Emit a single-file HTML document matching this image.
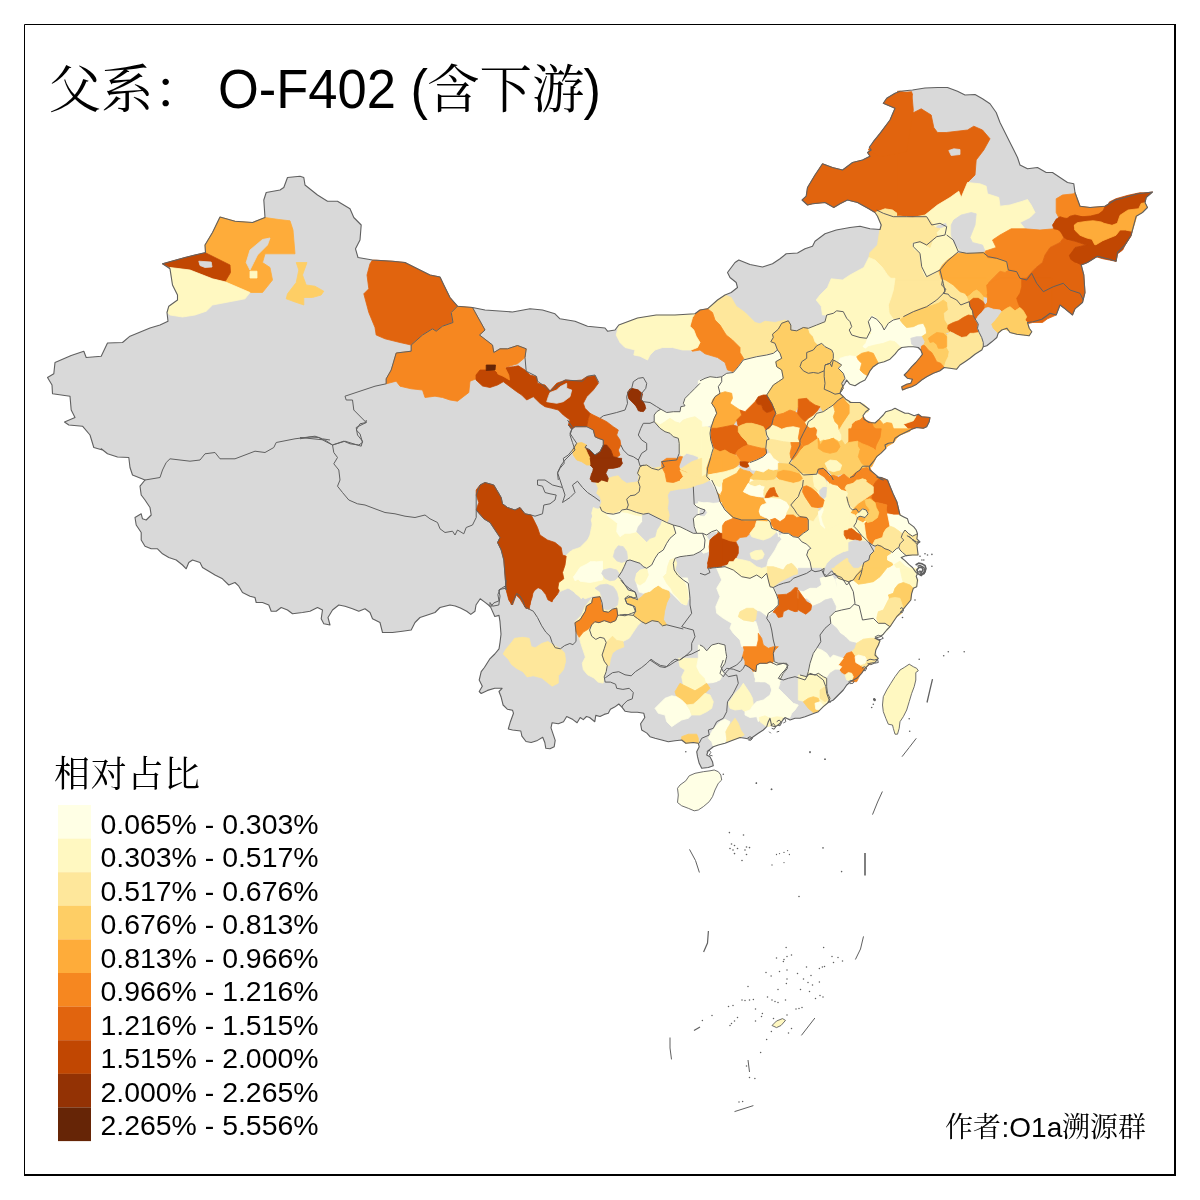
<!DOCTYPE html>
<html lang="zh"><head><meta charset="utf-8"><title>父系： O-F402 (含下游)</title>
<style>
html,body{margin:0;padding:0;background:#fff;}
body{width:1200px;height:1200px;overflow:hidden;}
svg{display:block;}
text{fill:#000;}
.ti{font-family:"Liberation Sans","Noto Serif CJK SC",serif;font-size:52.5px;}
.lt{font-family:"Liberation Sans","Noto Serif CJK SC",serif;font-size:36px;letter-spacing:0.7px;}
.lg{font-family:"Liberation Sans","Noto Serif CJK SC",sans-serif;font-size:27px;}
.au{font-family:"Liberation Sans","Noto Serif CJK SC",serif;font-size:28px;}
</style></head><body>
<svg width="1200" height="1200" viewBox="0 0 1200 1200">
<rect x="0" y="0" width="1200" height="1200" fill="#fff"/>
<g id="map">
<path d="M300.0 176.2 L303.8 177.5 L305.0 185.0 L317.5 195.0 L327.5 201.2 L337.5 201.2 L350.0 208.8 L353.8 217.5 L361.2 225.0 L360.0 240.0 L355.5 248.8 L358.0 257.5 L372.5 260.0 L392.5 261.2 L405.0 262.5 L417.5 268.8 L430.0 275.0 L440.0 277.0 L443.8 285.0 L450.0 297.5 L457.5 306.2 L472.5 307.5 L485.0 310.0 L512.5 312.0 L530.0 308.8 L542.5 310.0 L555.0 313.8 L560.0 318.8 L575.0 321.2 L587.5 326.2 L600.0 327.5 L600.0 327.5 L605.0 328.0 L607.5 331.2 L615.0 330.0 L618.8 325.0 L637.5 318.0 L656.2 315.0 L675.0 315.0 L695.0 313.8 L700.0 310.0 L707.5 308.8 L717.5 300.0 L725.0 295.0 L731.2 292.5 L737.5 287.5 L736.2 282.5 L730.0 277.5 L727.5 272.5 L735.0 262.5 L738.8 260.0 L750.0 264.5 L762.5 267.0 L772.5 263.8 L780.0 258.8 L786.2 253.8 L797.5 253.0 L805.0 248.8 L812.5 246.2 L815.0 241.2 L825.0 233.8 L836.2 230.0 L850.0 227.5 L860.0 226.2 L870.0 228.8 L880.0 229.5 L881.2 225.0 L877.5 216.2 L875.0 212.5 L868.8 208.8 L857.5 202.5 L847.5 200.0 L840.0 203.8 L833.8 207.5 L825.0 202.5 L812.5 203.8 L807.5 205.0 L802.0 200.0 L806.2 196.2 L807.5 187.5 L815.0 175.0 L822.5 163.8 L832.5 167.5 L842.5 170.0 L852.5 162.5 L862.5 160.0 L870.0 156.2 L867.5 152.5 L871.2 150.0 L869.3 147.3 L873.3 141.7 L880.0 133.3 L890.0 120.0 L895.0 108.3 L883.3 103.3 L886.7 98.3 L895.0 93.3 L900.0 91.2 L912.5 90.0 L925.0 88.0 L937.5 87.5 L947.5 87.5 L957.5 91.2 L965.0 95.0 L975.0 94.5 L982.5 98.8 L990.0 103.8 L996.2 112.5 L1000.0 122.5 L1005.0 132.5 L1010.0 142.5 L1013.8 150.0 L1017.5 157.5 L1020.0 165.0 L1027.5 168.8 L1037.5 167.5 L1046.2 172.5 L1052.5 172.5 L1060.0 177.5 L1067.5 182.5 L1073.8 183.8 L1075.0 192.5 L1080.0 206.2 L1090.0 207.5 L1105.0 206.2 L1115.0 200.0 L1125.0 197.5 L1137.5 193.8 L1152.5 192.0 L1146.2 197.5 L1145.0 202.5 L1147.5 207.5 L1142.5 212.5 L1136.2 216.2 L1133.8 225.0 L1131.2 235.0 L1125.0 245.0 L1117.5 252.5 L1116.2 261.2 L1107.5 258.8 L1097.5 256.2 L1087.5 262.5 L1081.2 265.0 L1083.8 275.0 L1085.0 292.5 L1082.5 302.5 L1075.0 308.8 L1072.5 315.0 L1065.0 308.8 L1060.0 305.0 L1056.2 315.0 L1050.0 313.2 L1046.8 315.8 L1041.8 319.2 L1033.2 321.8 L1027.5 322.5 L1029.2 328.2 L1031.8 331.8 L1029.2 335.8 L1023.2 335.0 L1016.8 334.2 L1010.0 332.5 L1006.8 328.2 L1001.8 330.0 L998.2 333.2 L996.8 337.5 L991.8 341.8 L986.8 345.8 L983.2 346.8 L981.8 350.0 L981.7 350.0 L975.0 354.2 L970.0 358.3 L965.0 361.7 L960.0 365.0 L956.7 369.2 L950.0 368.3 L944.2 367.5 L940.0 370.8 L933.3 373.3 L926.7 376.7 L921.7 380.0 L916.7 384.2 L911.7 386.7 L906.7 388.3 L902.5 390.0 L901.7 386.7 L906.7 384.2 L910.8 383.3 L912.5 379.2 L907.5 378.3 L904.2 375.0 L907.5 371.7 L911.7 366.7 L915.8 362.5 L920.0 357.5 L922.5 354.2 L920.8 350.0 L918.3 347.5 L913.3 346.7 L908.3 346.7 L901.7 347.5 L898.3 350.0 L895.0 354.2 L890.0 359.2 L884.2 361.7 L878.3 363.3 L873.3 366.7 L870.0 370.8 L867.5 375.8 L865.0 380.0 L860.0 382.5 L855.0 385.8 L850.0 384.2 L849.2 383.3 L846.7 380.0 L845.0 383.3 L841.7 388.3 L840.0 393.3 L843.3 396.7 L845.8 399.2 L850.0 401.7 L850.0 402.5 L860.0 402.5 L865.8 406.7 L869.2 409.2 L865.8 411.7 L863.0 415.8 L864.2 419.2 L869.2 422.5 L875.0 423.0 L879.2 419.2 L883.3 415.0 L885.8 411.7 L891.7 410.0 L895.0 408.3 L898.3 410.0 L905.0 413.3 L908.3 413.3 L914.2 415.8 L918.3 414.2 L921.7 416.7 L930.0 417.5 L929.2 421.7 L926.7 426.7 L923.3 428.3 L916.7 427.5 L911.7 429.2 L906.7 431.7 L900.0 435.0 L895.0 438.3 L893.3 442.5 L888.3 443.3 L885.0 445.0 L885.8 448.3 L880.8 453.3 L876.7 456.7 L873.3 461.7 L869.2 466.7 L870.0 470.0 L875.0 474.2 L880.8 479.2 L883.3 480.0 L876.9 476.9 L881.2 477.5 L887.5 480.0 L890.0 486.2 L893.1 493.8 L896.9 501.9 L898.8 510.0 L900.0 515.0 L903.8 516.9 L907.5 518.8 L908.8 523.1 L913.8 526.9 L916.2 530.0 L917.5 533.8 L916.9 538.8 L920.0 541.9 L918.1 543.1 L916.9 545.0 L917.5 550.0 L918.1 555.0 L912.5 555.0 L906.2 555.6 L901.2 557.5 L905.0 560.6 L908.8 564.4 L912.5 567.5 L915.6 571.9 L917.5 573.8 L916.2 576.2 L917.5 580.0 L916.7 586.7 L913.3 588.3 L911.7 593.3 L910.8 600.0 L906.7 605.0 L903.3 609.2 L900.0 613.3 L896.7 616.7 L893.3 621.7 L890.0 626.7 L886.7 630.0 L883.3 634.2 L880.0 636.7 L875.0 638.3 L880.0 640.8 L878.3 645.0 L875.8 650.0 L875.0 655.0 L878.3 658.3 L875.0 662.5 L870.0 663.3 L865.0 668.3 L861.7 673.3 L856.7 678.3 L851.7 680.8 L846.7 685.0 L843.3 690.0 L838.3 695.0 L833.3 700.0 L828.3 702.5 L823.3 706.7 L818.3 711.7 L811.7 714.2 L805.0 716.7 L800.0 718.3 L795.0 718.3 L790.0 720.0 L785.0 717.5 L781.7 721.7 L778.3 725.0 L775.0 726.7 L771.7 725.8 L770.0 718.3 L768.3 721.7 L766.7 726.7 L763.3 730.0 L758.3 733.3 L753.3 736.7 L750.0 739.2 L745.0 738.3 L740.0 737.5 L733.3 740.0 L725.0 743.3 L718.3 745.0 L713.3 746.7 L708.3 750.8 L706.7 755.0 L710.0 756.7 L712.5 761.7 L713.3 765.8 L708.3 767.5 L701.7 768.3 L699.2 763.3 L697.5 756.7 L696.7 751.7 L699.2 746.7 L698.3 743.3 L693.3 742.5 L685.8 743.3 L681.7 740.0 L675.0 740.8 L668.3 741.7 L661.7 740.0 L655.0 738.3 L650.0 736.7 L646.9 733.1 L641.7 730.0 L640.6 723.8 L644.8 717.5 L643.8 713.3 L637.5 712.3 L631.2 712.3 L625.0 711.2 L621.9 707.1 L618.8 704.0 L614.6 707.1 L610.4 709.2 L608.3 713.3 L604.2 714.4 L600.0 716.5 L595.8 715.4 L594.8 721.7 L589.6 717.5 L586.5 716.5 L583.3 719.6 L580.2 717.5 L577.1 722.7 L572.9 719.6 L566.7 716.5 L563.5 721.7 L558.3 723.8 L552.1 722.7 L551.0 727.9 L553.1 734.2 L555.2 740.4 L554.2 746.7 L550.0 748.8 L545.8 748.3 L544.8 742.5 L542.7 737.3 L537.5 740.4 L531.2 742.5 L526.0 741.5 L521.9 736.2 L520.8 731.0 L512.5 730.0 L508.3 729.0 L510.4 721.7 L513.5 713.3 L512.5 710.2 L507.3 709.2 L503.1 705.0 L501.0 696.7 L499.0 691.5 L502.1 688.3 L494.8 688.3 L487.5 690.4 L481.2 693.5 L479.2 691.5 L482.3 686.2 L479.2 680.0 L481.2 671.7 L484.4 667.5 L489.6 659.2 L494.8 654.0 L499.0 648.8 L500.0 642.5 L501.0 634.2 L500.0 621.7 L499.0 615.4 L494.8 616.5 L490.6 607.1 L488.5 605.0 L484.4 601.9 L480.2 598.8 L476.0 605.0 L475.0 611.2 L470.8 614.4 L466.7 611.2 L460.4 608.1 L455.2 606.0 L450.0 605.0 L440.0 607.5 L435.0 612.5 L427.5 615.0 L420.0 617.5 L415.0 622.5 L411.2 630.0 L402.5 631.2 L392.5 632.5 L382.5 632.5 L380.0 622.5 L372.5 618.8 L370.0 612.5 L365.0 608.8 L358.8 611.2 L352.5 608.8 L345.0 606.2 L338.8 605.0 L332.5 610.0 L328.0 617.5 L330.0 625.0 L323.8 623.8 L321.2 618.8 L322.5 610.0 L317.5 607.5 L310.0 611.2 L302.5 612.5 L292.5 613.8 L287.5 610.0 L281.2 607.5 L276.2 611.2 L271.2 611.2 L268.8 605.0 L262.5 602.5 L256.2 602.5 L255.0 597.5 L250.0 596.2 L242.5 592.5 L238.8 586.2 L235.0 582.5 L228.8 585.0 L222.5 578.8 L215.0 575.0 L208.8 571.2 L202.5 567.5 L200.0 562.5 L192.5 560.0 L188.8 562.5 L186.2 568.8 L182.5 565.0 L176.2 560.0 L168.8 557.5 L162.5 553.8 L157.5 548.8 L151.2 548.8 L145.0 546.2 L141.2 540.0 L141.2 532.5 L136.2 525.0 L135.0 517.5 L141.2 513.8 L142.5 518.8 L146.2 520.0 L151.2 515.0 L150.0 507.5 L145.0 500.0 L141.2 495.0 L140.0 486.2 L145.0 480.0 L132.5 475.0 L130.0 467.5 L128.8 457.5 L117.5 457.0 L107.5 453.8 L101.2 448.8 L102.5 450.0 L93.8 447.5 L90.0 435.0 L82.5 426.2 L68.8 425.0 L64.5 422.0 L75.0 417.5 L71.2 410.0 L70.0 396.2 L52.5 393.8 L52.0 385.0 L47.5 377.5 L53.8 373.8 L55.0 362.5 L71.2 355.5 L83.8 351.2 L86.2 357.5 L101.2 356.2 L107.5 343.0 L122.5 342.5 L130.0 336.2 L150.0 328.0 L160.0 325.0 L168.0 321.2 L167.0 312.5 L168.8 306.2 L177.5 300.0 L177.5 295.0 L172.5 285.0 L170.0 268.8 L162.5 263.8 L185.0 257.5 L195.0 255.0 L205.5 252.5 L205.0 245.0 L212.5 232.5 L220.0 217.0 L235.0 221.2 L252.5 222.5 L265.0 217.5 L263.8 200.0 L266.2 192.5 L280.0 190.0 L283.8 187.5 L287.5 177.5 L300.0 176.2Z" fill="#D9D9D9"/>
<path d="M265.0 217.5 L252.5 222.5 L235.0 221.2 L220.0 217.0 L212.5 232.5 L205.0 245.0 L205.5 252.5 L225.0 262.5 L230.0 265.0 L230.5 272.5 L225.0 281.8 L250.0 292.5 L262.5 292.5 L272.5 280.0 L270.0 267.5 L262.5 262.5 L265.0 253.8 L295.0 253.8 L293.0 230.0 L290.0 220.8 L278.8 219.5Z" fill="#FEAC3A" stroke="#FEAC3A" stroke-width="0.8" stroke-linejoin="round"/>
<path d="M162.5 263.8 L185.0 257.5 L195.0 255.0 L205.5 252.8 L225.0 262.5 L230.0 265.0 L230.5 272.5 L225.0 281.8 L212.5 278.8 L190.0 270.0 L170.0 267.5Z" fill="#C14702" stroke="#C14702" stroke-width="0.8" stroke-linejoin="round"/>
<path d="M170.0 267.5 L190.0 270.0 L212.5 278.8 L225.0 281.8 L250.0 292.5 L245.0 298.8 L232.5 301.2 L212.5 305.0 L206.2 311.2 L195.0 315.0 L182.5 317.0 L170.0 315.0 L167.0 312.5 L168.8 306.2 L177.5 300.0 L177.5 295.0 L172.5 285.0 L170.0 268.8Z" fill="#FFF8C1" stroke="#FFF8C1" stroke-width="0.8" stroke-linejoin="round"/>
<path d="M296.2 262.5 L307.0 262.5 L302.5 275.0 L306.2 285.0 L315.0 286.2 L323.8 291.2 L321.2 295.0 L312.5 297.5 L303.8 297.5 L303.8 305.0 L295.0 302.0 L286.2 298.8 L287.5 293.8 L296.2 282.5 L298.8 270.0Z" fill="#FECE65" stroke="#FECE65" stroke-width="0.8" stroke-linejoin="round"/>
<path d="M372.5 260.0 L392.5 261.2 L405.0 262.5 L417.5 268.8 L430.0 275.0 L440.0 277.0 L443.8 285.0 L450.0 297.5 L457.5 306.2 L451.2 312.5 L453.0 322.5 L442.5 326.2 L436.2 331.2 L432.5 328.8 L422.5 335.0 L411.2 345.0 L400.0 342.5 L385.0 338.8 L376.2 335.0 L375.0 327.5 L368.8 312.5 L363.8 293.8 L368.8 288.8 L367.0 275.0 L370.0 263.8Z" fill="#E1640E" stroke="#E1640E" stroke-width="0.8" stroke-linejoin="round"/>
<path d="M457.5 306.2 L472.5 307.5 L485.0 330.0 L479.5 335.0 L492.5 345.0 L493.8 352.5 L500.0 348.8 L507.5 348.8 L517.5 345.5 L526.2 348.8 L525.0 357.5 L517.5 363.8 L505.0 367.5 L508.8 375.0 L509.5 380.0 L497.5 376.2 L485.0 385.0 L476.2 378.8 L470.0 381.2 L468.8 392.5 L457.5 401.2 L450.0 400.0 L442.5 397.5 L435.0 396.2 L425.0 397.5 L422.5 390.0 L411.2 388.8 L400.0 386.2 L396.2 381.2 L386.2 383.8 L386.2 378.8 L391.2 370.0 L396.2 353.0 L411.2 351.2 L411.2 345.0 L422.5 335.0 L432.5 328.8 L436.2 331.2 L442.5 326.2 L453.0 322.5 L451.2 312.5Z" fill="#F68720" stroke="#F68720" stroke-width="0.8" stroke-linejoin="round"/>
<path d="M871.2 150.0 L867.5 152.5 L870.0 156.2 L862.5 160.0 L852.5 162.5 L842.5 170.0 L832.5 167.5 L822.5 163.8 L815.0 175.0 L807.5 187.5 L806.2 196.2 L802.0 200.0 L807.5 205.0 L812.5 203.8 L825.0 202.5 L833.8 207.5 L840.0 203.8 L847.5 200.0 L857.5 202.5 L868.8 208.8 L875.0 212.5 L885.0 208.8 L892.5 210.0 L900.0 215.5 L902.5 215.5 L902.5 150.0Z" fill="#E1640E" stroke="#E1640E" stroke-width="0.8" stroke-linejoin="round"/>
<path d="M875.0 212.5 L885.0 208.8 L892.5 210.0 L900.0 215.5 L902.5 215.5 L902.5 317.5 L900.0 316.2 L890.0 310.0 L887.5 305.0 L890.0 300.0 L896.2 290.0 L892.5 280.0 L887.5 275.0 L882.5 267.5 L875.0 260.0 L868.8 257.5 L870.0 252.5 L877.5 245.0 L878.8 236.2 L880.0 229.5 L881.2 225.0 L877.5 216.2Z" fill="#FEE79B" stroke="#FEE79B" stroke-width="0.8" stroke-linejoin="round"/>
<path d="M868.8 257.5 L863.8 267.5 L850.0 275.0 L842.5 280.0 L831.2 278.8 L827.5 287.5 L820.0 295.0 L816.2 300.0 L821.2 306.2 L822.5 315.0 L827.5 315.0 L835.0 312.5 L841.2 311.2 L847.5 317.5 L851.2 325.0 L850.0 335.0 L860.0 337.5 L868.8 336.2 L870.0 330.0 L868.8 320.0 L873.8 316.2 L881.2 322.5 L883.8 330.0 L890.0 322.5 L900.0 318.8 L902.5 317.5 L900.0 316.2 L890.0 310.0 L887.5 305.0 L890.0 300.0 L896.2 290.0 L892.5 280.0 L887.5 275.0 L882.5 267.5 L875.0 260.0Z" fill="#FFF8C1" stroke="#FFF8C1" stroke-width="0.8" stroke-linejoin="round"/>
<path d="M717.5 300.0 L725.0 295.0 L731.2 297.5 L736.2 306.2 L745.0 312.5 L755.0 322.5 L760.0 323.8 L765.0 321.2 L775.0 322.5 L785.0 320.0 L788.8 322.5 L785.0 325.0 L780.0 326.2 L778.8 332.5 L772.5 336.2 L773.8 343.8 L776.2 347.5 L775.0 353.8 L762.5 356.2 L752.5 358.8 L743.8 358.8 L740.0 352.5 L740.0 347.5 L732.5 340.0 L726.2 335.0 L720.0 325.0 L715.0 320.0 L712.5 312.5 L707.5 308.8Z" fill="#FEE79B" stroke="#FEE79B" stroke-width="0.8" stroke-linejoin="round"/>
<path d="M695.0 313.8 L700.0 310.0 L707.5 308.8 L712.5 312.5 L715.0 320.0 L720.0 325.0 L726.2 335.0 L732.5 340.0 L740.0 347.5 L740.0 352.5 L743.8 358.8 L740.0 365.0 L736.2 372.5 L727.5 370.0 L725.0 362.5 L717.5 357.5 L705.0 353.8 L700.0 350.0 L692.5 351.2 L691.2 350.0 L697.5 347.5 L700.0 342.5 L696.2 336.2 L693.8 330.0 L690.0 326.2 L692.5 317.5Z" fill="#F68720" stroke="#F68720" stroke-width="0.8" stroke-linejoin="round"/>
<path d="M618.8 325.0 L637.5 318.0 L656.2 315.0 L675.0 315.0 L695.0 313.8 L692.5 317.5 L690.0 326.2 L693.8 330.0 L696.2 336.2 L700.0 342.5 L697.5 347.5 L691.2 350.0 L682.5 350.0 L672.5 347.5 L662.5 347.5 L655.0 350.0 L650.0 355.0 L647.5 360.0 L640.0 356.2 L633.8 355.0 L635.0 350.0 L625.0 347.5 L620.0 342.5 L616.2 335.0Z" fill="#FFF8C1" stroke="#FFF8C1" stroke-width="0.8" stroke-linejoin="round"/>
<path d="M630.0 388.8 L637.5 390.0 L642.5 393.8 L641.2 400.0 L645.0 405.0 L644.5 410.0 L640.0 411.2 L635.0 405.0 L628.8 398.8 L627.5 392.5Z" fill="#933204" stroke="#933204" stroke-width="0.8" stroke-linejoin="round"/>
<path d="M897.5 91.2 L900.0 91.2 L912.5 93.8 L911.2 100.0 L905.0 106.2 L913.8 112.5 L921.2 108.8 L931.2 115.0 L933.8 127.5 L937.5 132.5 L946.2 132.5 L967.5 130.0 L973.8 126.2 L982.5 130.0 L990.0 138.8 L983.8 150.0 L976.2 160.0 L975.0 175.0 L967.5 182.5 L961.2 197.5 L958.8 191.2 L950.0 197.5 L937.5 205.0 L925.0 215.0 L912.5 217.5 L900.0 216.2 L897.5 216.2Z" fill="#E1640E" stroke="#E1640E" stroke-width="0.8" stroke-linejoin="round"/>
<path d="M925.0 215.0 L937.5 205.0 L950.0 197.5 L958.8 191.2 L961.2 197.5 L967.5 182.5 L980.0 183.8 L986.2 186.2 L987.5 193.8 L998.8 197.5 L1000.0 206.2 L1010.0 205.0 L1022.5 201.2 L1027.5 199.5 L1031.2 205.0 L1035.0 212.5 L1030.0 217.5 L1020.0 222.5 L1025.0 228.8 L1011.2 228.8 L1000.0 235.0 L992.5 240.0 L996.2 247.5 L985.0 251.2 L975.0 252.5 L965.0 252.5 L958.8 248.8 L956.2 253.8 L947.5 260.0 L942.5 265.0 L938.8 271.2 L932.5 275.0 L925.0 277.5 L922.5 272.5 L920.0 262.5 L918.8 252.5 L913.8 250.0 L911.2 243.8 L915.0 241.2 L923.8 243.8 L930.0 247.5 L932.5 240.0 L937.5 236.2 L936.2 232.5 L940.0 228.8 L947.5 226.2 L946.2 222.5 L937.5 225.0 L935.0 227.5 L930.0 220.0Z" fill="#FFF8C1" stroke="#FFF8C1" stroke-width="0.8" stroke-linejoin="round"/>
<path d="M897.5 216.2 L900.0 216.2 L912.5 217.5 L925.0 215.0 L930.0 220.0 L935.0 227.5 L940.0 228.8 L936.2 232.5 L937.5 236.2 L932.5 240.0 L930.0 247.5 L923.8 243.8 L915.0 241.2 L911.2 243.8 L913.8 250.0 L918.8 252.5 L920.0 262.5 L922.5 272.5 L925.0 277.5 L932.5 275.0 L938.8 271.2 L941.2 278.8 L945.0 287.5 L942.5 293.8 L947.5 296.2 L950.0 290.0 L957.5 287.5 L965.0 293.8 L967.5 300.0 L960.0 305.0 L950.0 302.5 L945.0 307.5 L937.5 305.0 L925.0 308.8 L915.0 312.5 L907.5 315.0 L900.0 316.2 L897.5 316.2Z" fill="#FEE79B" stroke="#FEE79B" stroke-width="0.8" stroke-linejoin="round"/>
<path d="M938.8 271.2 L942.5 265.0 L947.5 260.0 L956.2 253.8 L965.0 252.5 L975.0 252.5 L985.0 251.2 L987.5 257.5 L1000.0 258.8 L1007.5 261.2 L1008.8 270.0 L1005.0 272.5 L1000.0 271.2 L995.0 276.2 L988.8 282.5 L986.2 290.0 L987.5 297.5 L982.5 296.2 L977.5 290.0 L972.5 291.2 L968.8 295.0 L965.0 293.8 L957.5 287.5 L950.0 290.0 L947.5 296.2 L942.5 293.8 L945.0 287.5 L941.2 278.8Z" fill="#FEAC3A" stroke="#FEAC3A" stroke-width="0.8" stroke-linejoin="round"/>
<path d="M985.0 251.2 L996.2 247.5 L992.5 240.0 L1000.0 235.0 L1011.2 228.8 L1025.0 228.8 L1040.0 230.0 L1053.8 228.8 L1060.0 230.0 L1063.8 237.5 L1060.0 242.5 L1050.0 247.5 L1045.0 255.0 L1042.5 262.5 L1036.2 267.5 L1032.5 271.2 L1025.0 280.0 L1020.0 275.0 L1015.0 270.0 L1008.8 270.0 L1007.5 261.2 L1000.0 258.8 L987.5 257.5Z" fill="#F68720" stroke="#F68720" stroke-width="0.8" stroke-linejoin="round"/>
<path d="M988.8 282.5 L995.0 276.2 L1000.0 271.2 L1005.0 272.5 L1008.8 270.0 L1015.0 270.0 L1020.0 275.0 L1025.0 280.0 L1022.5 287.5 L1017.5 297.5 L1020.0 305.0 L1015.0 310.0 L1007.5 305.0 L1000.0 302.5 L993.8 307.5 L987.5 302.5 L987.5 297.5 L986.2 290.0Z" fill="#F68720" stroke="#F68720" stroke-width="0.8" stroke-linejoin="round"/>
<path d="M1025.0 280.0 L1032.5 271.2 L1036.2 267.5 L1042.5 262.5 L1045.0 255.0 L1050.0 247.5 L1060.0 242.5 L1063.8 237.5 L1070.0 240.0 L1075.0 241.2 L1086.2 245.0 L1075.0 247.5 L1070.0 255.0 L1072.5 260.0 L1081.2 265.0 L1083.8 275.0 L1085.0 292.5 L1082.5 302.5 L1075.0 308.8 L1072.5 315.0 L1065.0 308.8 L1060.0 305.0 L1056.2 315.0 L1047.5 318.8 L1042.5 322.5 L1032.5 322.5 L1027.5 323.8 L1025.0 315.0 L1020.0 305.0 L1017.5 297.5 L1022.5 287.5Z" fill="#E1640E" stroke="#E1640E" stroke-width="0.8" stroke-linejoin="round"/>
<path d="M1056.2 198.8 L1062.5 195.0 L1073.8 193.8 L1075.0 192.5 L1080.0 206.2 L1090.0 207.5 L1105.0 206.2 L1102.5 212.5 L1095.0 216.2 L1085.0 217.5 L1075.0 215.0 L1070.0 216.2 L1065.0 220.0 L1060.0 220.0 L1056.2 212.5Z" fill="#F68720" stroke="#F68720" stroke-width="0.8" stroke-linejoin="round"/>
<path d="M1105.0 206.2 L1115.0 200.0 L1125.0 197.5 L1137.5 193.8 L1152.5 192.0 L1146.2 197.5 L1145.0 202.5 L1141.2 203.8 L1135.0 210.0 L1125.0 212.5 L1120.0 217.5 L1115.0 222.5 L1107.5 225.0 L1100.0 223.8 L1092.5 221.2 L1086.2 222.5 L1080.0 225.0 L1075.0 225.0 L1072.5 230.0 L1080.0 235.0 L1085.0 238.8 L1090.0 241.2 L1086.2 245.0 L1075.0 241.2 L1070.0 240.0 L1063.8 237.5 L1060.0 230.0 L1053.8 228.8 L1052.5 225.0 L1056.2 220.0 L1060.0 220.0 L1065.0 220.0 L1070.0 216.2 L1075.0 215.0 L1085.0 217.5 L1095.0 216.2 L1102.5 212.5Z" fill="#C14702" stroke="#C14702" stroke-width="0.8" stroke-linejoin="round"/>
<path d="M1073.8 225.0 L1080.0 225.0 L1086.2 222.5 L1092.5 221.2 L1100.0 223.8 L1107.5 225.0 L1115.0 222.5 L1120.0 217.5 L1125.0 212.5 L1135.0 210.0 L1141.2 203.8 L1145.0 202.5 L1147.5 207.5 L1142.5 212.5 L1136.2 216.2 L1133.8 225.0 L1131.2 235.0 L1125.0 231.2 L1117.5 232.5 L1113.8 237.5 L1107.5 241.2 L1100.0 242.5 L1095.0 245.0 L1090.0 241.2 L1085.0 238.8 L1080.0 235.0 L1072.5 230.0Z" fill="#FEAC3A" stroke="#FEAC3A" stroke-width="0.8" stroke-linejoin="round"/>
<path d="M1070.0 255.0 L1075.0 247.5 L1086.2 245.0 L1090.0 241.2 L1095.0 245.0 L1100.0 242.5 L1107.5 241.2 L1113.8 237.5 L1117.5 232.5 L1125.0 231.2 L1131.2 235.0 L1125.0 245.0 L1117.5 252.5 L1116.2 261.2 L1107.5 258.8 L1097.5 256.2 L1087.5 262.5 L1081.2 265.0 L1072.5 260.0Z" fill="#C14702" stroke="#C14702" stroke-width="0.8" stroke-linejoin="round"/>
<path d="M993.8 322.5 L1000.0 315.0 L1005.0 310.0 L1007.5 305.0 L1015.0 310.0 L1020.0 305.0 L1025.0 315.0 L1027.5 323.8 L1026.2 327.5 L1030.0 333.8 L1025.0 335.0 L1017.5 332.5 L1010.0 331.2 L1000.0 327.5 L996.2 332.5 L992.5 327.5Z" fill="#FECE65" stroke="#FECE65" stroke-width="0.8" stroke-linejoin="round"/>
<path d="M970.0 300.0 L977.5 297.5 L982.5 302.5 L985.0 308.8 L980.0 315.0 L975.0 316.2 L971.2 307.5Z" fill="#E1640E" stroke="#E1640E" stroke-width="0.8" stroke-linejoin="round"/>
<path d="M948.8 325.0 L960.0 321.2 L965.0 315.0 L972.5 316.2 L976.2 322.5 L978.8 332.5 L970.0 333.8 L965.0 337.5 L960.0 335.0 L953.8 331.2 L948.8 330.0Z" fill="#E1640E" stroke="#E1640E" stroke-width="0.8" stroke-linejoin="round"/>
<path d="M895.0 280.0 L943.3 280.0 L941.7 290.0 L943.3 293.3 L948.3 294.2 L950.0 296.7 L947.5 303.3 L943.3 300.0 L938.3 303.3 L933.3 305.0 L928.3 306.7 L923.3 307.5 L916.7 310.0 L911.7 312.5 L905.0 315.8 L900.0 320.0 L893.3 319.2 L889.2 313.3 L888.3 305.0 L890.8 298.3 L893.3 290.0Z" fill="#FEE79B" stroke="#FEE79B" stroke-width="0.8" stroke-linejoin="round"/>
<path d="M848.3 278.3 L895.0 278.3 L893.3 290.0 L890.8 298.3 L888.3 305.0 L889.2 313.3 L893.3 319.2 L885.8 326.7 L883.3 330.0 L880.0 323.3 L876.7 318.3 L872.5 315.8 L869.2 318.3 L870.8 330.0 L871.7 333.3 L868.3 336.7 L865.0 338.3 L860.0 337.5 L855.0 335.0 L848.3 333.3Z" fill="#FFF8C1" stroke="#FFF8C1" stroke-width="0.8" stroke-linejoin="round"/>
<path d="M869.2 318.3 L872.5 315.8 L876.7 318.3 L880.0 323.3 L883.3 330.0 L885.8 326.7 L893.3 319.2 L900.0 320.0 L903.3 324.2 L906.7 327.5 L913.3 326.7 L918.3 324.2 L923.3 323.3 L925.8 328.3 L926.7 333.3 L921.7 336.7 L916.7 336.7 L910.8 338.3 L911.7 344.2 L915.8 346.7 L913.3 346.7 L908.3 346.7 L901.7 347.5 L898.3 350.0 L895.0 354.2 L890.0 359.2 L884.2 361.7 L878.3 363.3 L875.8 358.3 L873.3 353.3 L868.3 351.7 L864.2 350.0 L861.7 345.8 L865.0 341.7 L868.3 336.7 L871.7 333.3 L870.8 330.0Z" fill="#FFFFE5" stroke="#FFFFE5" stroke-width="0.8" stroke-linejoin="round"/>
<path d="M848.3 333.3 L855.0 335.0 L860.0 337.5 L865.0 338.3 L865.0 341.7 L861.7 345.8 L864.2 350.0 L861.7 353.3 L856.7 356.7 L848.3 355.8Z" fill="#FFF8C1" stroke="#FFF8C1" stroke-width="0.8" stroke-linejoin="round"/>
<path d="M848.3 355.8 L856.7 356.7 L858.3 360.0 L861.7 363.3 L860.0 370.0 L863.3 373.3 L867.5 375.8 L865.0 380.0 L860.0 382.5 L855.0 385.8 L848.3 384.2Z" fill="#FFFFE5" stroke="#FFFFE5" stroke-width="0.8" stroke-linejoin="round"/>
<path d="M900.0 320.0 L905.0 315.8 L911.7 312.5 L916.7 310.0 L923.3 307.5 L928.3 306.7 L933.3 305.0 L938.3 303.3 L943.3 300.0 L947.5 303.3 L948.3 310.0 L944.2 313.3 L945.0 320.0 L948.3 325.0 L947.5 328.3 L950.0 331.7 L945.0 333.3 L938.3 331.7 L933.3 332.5 L930.0 335.0 L926.7 333.3 L925.8 328.3 L923.3 323.3 L918.3 324.2 L913.3 326.7 L906.7 327.5 L903.3 324.2Z" fill="#FECE65" stroke="#FECE65" stroke-width="0.8" stroke-linejoin="round"/>
<path d="M943.3 280.0 L948.3 281.7 L953.3 285.0 L956.7 288.3 L960.0 291.7 L965.0 293.3 L967.5 296.7 L969.2 301.7 L970.0 306.7 L972.5 310.8 L973.3 315.8 L968.3 315.0 L963.3 317.5 L958.3 320.8 L953.3 322.5 L948.3 325.0 L945.0 320.0 L944.2 313.3 L948.3 310.0 L947.5 303.3 L950.0 296.7 L948.3 294.2 L943.3 293.3 L941.7 290.0Z" fill="#FEE79B" stroke="#FEE79B" stroke-width="0.8" stroke-linejoin="round"/>
<path d="M943.3 278.3 L986.7 278.3 L986.7 285.0 L987.5 293.3 L983.3 296.7 L980.0 292.5 L976.7 290.0 L973.3 291.7 L970.0 295.0 L967.5 296.7 L965.0 293.3 L960.0 291.7 L956.7 288.3 L953.3 285.0 L948.3 281.7Z" fill="#FEAC3A" stroke="#FEAC3A" stroke-width="0.8" stroke-linejoin="round"/>
<path d="M967.5 296.7 L970.0 295.0 L973.3 291.7 L976.7 290.0 L980.0 292.5 L983.3 296.7 L983.3 301.7 L978.3 298.3 L973.3 298.3 L969.2 301.7Z" fill="#FECE65" stroke="#FECE65" stroke-width="0.8" stroke-linejoin="round"/>
<path d="M969.2 301.7 L973.3 298.3 L978.3 298.3 L983.3 301.7 L985.0 305.0 L983.3 308.3 L981.7 312.5 L978.3 315.8 L975.8 320.0 L973.3 315.8 L972.5 310.8 L970.0 306.7Z" fill="#E1640E" stroke="#E1640E" stroke-width="0.8" stroke-linejoin="round"/>
<path d="M948.3 325.0 L953.3 322.5 L958.3 320.8 L963.3 317.5 L968.3 315.0 L973.3 315.8 L975.8 320.0 L978.3 324.2 L977.5 328.3 L979.2 332.5 L973.3 333.3 L970.0 333.3 L966.7 336.7 L961.7 337.5 L956.7 335.0 L953.3 332.5 L950.0 331.7 L947.5 328.3Z" fill="#E1640E" stroke="#E1640E" stroke-width="0.8" stroke-linejoin="round"/>
<path d="M925.0 345.8 L922.5 345.0 L923.3 344.2 L924.2 341.7 L921.7 336.7 L926.7 333.3 L930.0 335.0 L933.3 332.5 L938.3 331.7 L945.0 333.3 L947.5 335.0 L946.7 340.0 L946.7 346.7 L949.2 351.7 L948.3 356.7 L945.8 361.7 L944.2 367.5 L940.8 363.3 L936.7 361.7 L934.2 356.7 L931.7 352.5 L928.3 350.0Z" fill="#FECE65" stroke="#FECE65" stroke-width="0.8" stroke-linejoin="round"/>
<path d="M947.5 335.0 L950.0 331.7 L956.7 335.0 L961.7 337.5 L966.7 336.7 L970.0 333.3 L973.3 333.3 L979.2 332.5 L981.7 337.5 L983.3 342.5 L983.3 346.7 L981.7 350.0 L975.0 354.2 L970.0 358.3 L965.0 361.7 L960.0 365.0 L956.7 369.2 L950.0 368.3 L944.2 367.5 L945.8 361.7 L948.3 356.7 L949.2 351.7 L946.7 346.7 L946.7 340.0Z" fill="#FEE79B" stroke="#FEE79B" stroke-width="0.8" stroke-linejoin="round"/>
<path d="M920.8 350.0 L922.5 354.2 L920.0 357.5 L915.8 362.5 L911.7 366.7 L907.5 371.7 L904.2 375.0 L907.5 378.3 L912.5 379.2 L910.8 383.3 L906.7 384.2 L901.7 386.7 L902.5 390.0 L906.7 388.3 L911.7 386.7 L916.7 384.2 L921.7 380.0 L926.7 376.7 L933.3 373.3 L940.0 370.8 L944.2 367.5 L940.8 363.3 L936.7 361.7 L934.2 356.7 L931.7 352.5 L928.3 350.0 L925.0 345.8 L922.5 345.0 L920.8 345.8Z" fill="#F68720" stroke="#F68720" stroke-width="0.8" stroke-linejoin="round"/>
<path d="M986.7 285.0 L991.7 281.7 L1000.0 278.3 L1021.7 278.3 L1021.7 286.7 L1020.0 293.3 L1016.7 298.3 L1018.3 303.3 L1020.0 307.5 L1015.0 310.8 L1010.0 306.7 L1006.7 308.3 L1001.7 311.7 L1000.0 310.0 L993.3 309.2 L988.3 307.5 L985.0 308.3 L985.0 305.0 L986.7 303.3 L989.2 300.0 L987.5 293.3Z" fill="#F68720" stroke="#F68720" stroke-width="0.8" stroke-linejoin="round"/>
<path d="M1021.7 278.3 L1051.7 278.3 L1051.7 313.3 L1046.7 315.8 L1041.7 319.2 L1033.3 321.7 L1027.5 322.5 L1025.0 320.0 L1026.7 316.7 L1023.3 310.8 L1020.0 307.5 L1018.3 303.3 L1016.7 298.3 L1020.0 293.3 L1021.7 286.7Z" fill="#E1640E" stroke="#E1640E" stroke-width="0.8" stroke-linejoin="round"/>
<path d="M903.3 424.2 L908.3 422.5 L913.3 420.8 L915.8 416.7 L918.3 414.2 L921.7 416.7 L930.0 417.5 L929.2 421.7 L926.7 426.7 L923.3 428.3 L916.7 427.5 L911.7 429.2 L907.5 428.3Z" fill="#E1640E" stroke="#E1640E" stroke-width="0.8" stroke-linejoin="round"/>
<path d="M879.2 419.2 L883.3 415.0 L885.8 411.7 L891.7 410.0 L895.0 408.3 L898.3 410.0 L905.0 413.3 L908.3 413.3 L914.2 415.8 L915.8 416.7 L913.3 420.8 L908.3 422.5 L903.3 424.2 L907.5 428.3 L906.7 431.7 L900.0 435.0 L896.7 433.3 L893.3 428.3 L891.7 423.3 L886.7 422.5 L883.3 424.2Z" fill="#FFF8C1" stroke="#FFF8C1" stroke-width="0.8" stroke-linejoin="round"/>
<path d="M848.3 402.5 L860.0 402.5 L865.8 406.7 L869.2 409.2 L865.8 411.7 L863.0 415.8 L864.2 419.2 L860.0 420.0 L855.0 423.3 L848.3 425.0Z" fill="#FEE79B" stroke="#FEE79B" stroke-width="0.8" stroke-linejoin="round"/>
<path d="M848.3 425.0 L855.0 423.3 L860.0 420.0 L864.2 419.2 L869.2 422.5 L871.7 425.0 L873.3 430.0 L878.3 435.0 L880.8 440.0 L876.7 444.2 L875.0 448.3 L871.7 451.7 L866.7 448.3 L861.7 446.7 L856.7 445.0 L848.3 440.0Z" fill="#F68720" stroke="#F68720" stroke-width="0.8" stroke-linejoin="round"/>
<path d="M869.2 422.5 L875.0 423.0 L879.2 419.2 L883.3 424.2 L886.7 422.5 L891.7 423.3 L893.3 428.3 L896.7 433.3 L900.0 435.0 L895.0 438.3 L893.3 442.5 L888.3 443.3 L885.0 445.0 L885.8 448.3 L880.8 453.3 L876.7 456.7 L873.3 461.7 L869.2 466.7 L865.0 463.3 L866.7 456.7 L871.7 451.7 L875.0 448.3 L876.7 444.2 L880.8 440.0 L878.3 435.0 L873.3 430.0 L871.7 425.0Z" fill="#FEAC3A" stroke="#FEAC3A" stroke-width="0.8" stroke-linejoin="round"/>
<path d="M848.3 440.0 L856.7 445.0 L861.7 446.7 L866.7 448.3 L871.7 451.7 L866.7 456.7 L865.0 463.3 L861.7 465.0 L856.7 471.7 L853.3 478.3 L848.3 480.0Z" fill="#FEAC3A" stroke="#FEAC3A" stroke-width="0.8" stroke-linejoin="round"/>
<path d="M861.7 465.0 L865.0 463.3 L869.2 466.7 L870.0 470.0 L875.0 474.2 L880.8 479.2 L883.3 481.7 L853.3 481.7 L853.3 478.3 L856.7 471.7Z" fill="#F68720" stroke="#F68720" stroke-width="0.8" stroke-linejoin="round"/>
<path d="M698.3 380.8 L705.0 378.3 L710.0 376.7 L716.7 377.5 L721.7 376.7 L721.7 381.7 L718.3 386.7 L720.0 393.3 L715.0 396.7 L711.7 403.3 L715.0 408.3 L716.7 413.3 L714.2 418.3 L710.8 425.0 L706.7 426.7 L698.3 427.5Z" fill="#FFFFE5" stroke="#FFFFE5" stroke-width="0.8" stroke-linejoin="round"/>
<path d="M721.7 376.7 L726.7 373.3 L733.3 372.5 L738.3 366.7 L743.3 360.0 L750.0 358.3 L756.7 356.7 L766.7 355.0 L773.3 353.3 L777.5 350.0 L780.0 353.3 L781.7 358.3 L775.8 361.7 L776.7 366.7 L781.7 370.0 L783.3 378.3 L778.3 381.7 L773.3 385.0 L770.0 390.0 L766.7 395.0 L763.3 395.0 L758.3 396.7 L755.0 401.7 L750.0 406.7 L745.0 411.7 L740.0 410.0 L735.0 406.7 L730.0 403.3 L732.5 398.3 L731.7 393.3 L725.0 391.7 L720.0 393.3 L718.3 386.7 L721.7 381.7Z" fill="#FFFFE5" stroke="#FFFFE5" stroke-width="0.8" stroke-linejoin="round"/>
<path d="M772.5 334.2 L778.3 329.2 L781.7 323.3 L788.3 320.8 L790.8 325.0 L790.8 330.0 L796.7 330.8 L803.3 327.5 L808.3 328.3 L810.0 333.3 L813.3 336.7 L815.0 341.7 L818.3 345.0 L821.7 343.3 L825.0 346.7 L831.7 350.0 L833.3 353.3 L833.3 358.3 L836.7 361.7 L841.7 365.0 L838.3 368.3 L843.3 373.3 L845.0 378.3 L841.7 383.3 L843.3 388.3 L840.0 393.3 L843.3 396.7 L838.3 400.0 L833.3 405.0 L828.3 408.3 L823.3 411.7 L820.0 406.7 L815.0 405.0 L810.0 401.7 L806.7 398.3 L798.3 399.2 L798.3 406.7 L795.0 411.7 L790.0 410.0 L783.3 413.3 L776.7 415.0 L775.0 410.0 L771.7 403.3 L766.7 395.0 L770.0 390.0 L773.3 385.0 L778.3 381.7 L783.3 378.3 L781.7 370.0 L776.7 366.7 L775.8 361.7 L781.7 358.3 L780.0 353.3 L777.5 350.0 L775.0 343.3 L770.8 341.7 L773.3 337.5Z" fill="#FECE65" stroke="#FECE65" stroke-width="0.8" stroke-linejoin="round"/>
<path d="M775.0 415.0 L776.7 415.0 L783.3 413.3 L790.0 410.0 L795.0 411.7 L797.5 413.3 L800.0 416.7 L805.0 421.7 L806.7 425.0 L800.0 428.3 L793.3 426.7 L786.7 427.5 L781.7 429.2 L776.7 426.7 L771.7 425.0 L773.3 420.0Z" fill="#F68720" stroke="#F68720" stroke-width="0.8" stroke-linejoin="round"/>
<path d="M771.7 425.0 L776.7 426.7 L781.7 429.2 L786.7 427.5 L793.3 426.7 L800.0 428.3 L799.2 433.3 L798.3 438.3 L800.0 442.5 L793.3 442.5 L783.3 441.7 L775.0 440.0 L769.2 439.2 L766.7 435.0 L765.8 430.0Z" fill="#FFF8C1" stroke="#FFF8C1" stroke-width="0.8" stroke-linejoin="round"/>
<path d="M800.0 428.3 L806.7 425.0 L810.0 427.5 L815.0 426.7 L817.5 430.0 L816.7 435.0 L818.3 438.3 L813.3 441.7 L808.3 445.0 L803.3 446.7 L800.0 442.5 L798.3 438.3 L799.2 433.3Z" fill="#F68720" stroke="#F68720" stroke-width="0.8" stroke-linejoin="round"/>
<path d="M805.0 421.7 L808.3 418.3 L813.3 415.0 L816.7 411.7 L823.3 411.7 L828.3 408.3 L833.3 405.0 L835.0 411.7 L833.3 416.7 L835.0 421.7 L838.3 425.0 L839.2 430.0 L841.7 435.0 L841.7 440.0 L838.3 442.5 L833.3 438.3 L828.3 440.0 L823.3 440.8 L820.0 445.0 L818.3 438.3 L816.7 435.0 L817.5 430.0 L815.0 426.7 L810.0 427.5 L806.7 425.0Z" fill="#FFF8C1" stroke="#FFF8C1" stroke-width="0.8" stroke-linejoin="round"/>
<path d="M833.3 405.0 L838.3 400.0 L843.3 396.7 L846.7 401.7 L850.0 405.0 L850.0 413.3 L846.7 418.3 L843.3 423.3 L839.2 430.0 L838.3 425.0 L835.0 421.7 L833.3 416.7 L835.0 411.7Z" fill="#FEAC3A" stroke="#FEAC3A" stroke-width="0.8" stroke-linejoin="round"/>
<path d="M843.3 396.7 L845.8 399.2 L850.0 401.7 L856.7 403.3 L864.2 404.2 L867.5 407.5 L868.3 411.7 L864.2 413.3 L863.3 416.7 L860.0 420.0 L855.0 421.7 L851.7 425.0 L846.7 418.3 L850.0 413.3 L850.0 405.0 L846.7 401.7Z" fill="#FEE79B" stroke="#FEE79B" stroke-width="0.8" stroke-linejoin="round"/>
<path d="M851.7 425.0 L855.0 421.7 L860.0 420.0 L863.3 416.7 L866.7 420.8 L871.7 422.5 L873.3 426.7 L876.7 430.0 L880.0 435.0 L881.7 440.0 L878.3 443.3 L875.0 446.7 L873.3 451.7 L868.3 450.0 L863.3 448.3 L858.3 446.7 L853.3 444.2 L850.0 440.0 L849.2 433.3Z" fill="#F68720" stroke="#F68720" stroke-width="0.8" stroke-linejoin="round"/>
<path d="M839.2 430.0 L843.3 423.3 L846.7 418.3 L851.7 425.0 L849.2 433.3 L850.0 440.0 L845.0 445.0 L841.7 440.0 L841.7 435.0Z" fill="#FEE79B" stroke="#FEE79B" stroke-width="0.8" stroke-linejoin="round"/>
<path d="M800.0 442.5 L803.3 446.7 L808.3 445.0 L813.3 441.7 L818.3 438.3 L820.0 445.0 L823.3 440.8 L828.3 440.0 L833.3 438.3 L838.3 442.5 L841.7 440.0 L845.0 445.0 L850.0 440.0 L853.3 444.2 L858.3 446.7 L860.0 451.7 L858.3 456.7 L855.0 461.7 L850.0 465.0 L843.3 468.3 L838.3 466.7 L833.3 463.3 L826.7 461.7 L823.3 465.0 L820.0 468.3 L815.0 468.3 L806.7 470.0 L800.0 466.7 L795.0 463.3 L790.0 464.2 L793.3 460.0 L796.7 455.0 L800.0 450.0Z" fill="#FECE65" stroke="#FECE65" stroke-width="0.8" stroke-linejoin="round"/>
<path d="M712.5 400.0 L715.0 396.7 L720.0 393.3 L725.0 391.7 L731.7 393.3 L732.5 398.3 L730.0 403.3 L735.0 406.7 L740.0 410.0 L741.7 415.0 L736.7 420.0 L733.3 425.0 L725.0 426.7 L716.7 428.3 L710.8 428.3 L714.2 418.3 L716.7 413.3 L715.0 408.3 L711.7 403.3Z" fill="#FEAC3A" stroke="#FEAC3A" stroke-width="0.8" stroke-linejoin="round"/>
<path d="M750.0 406.7 L755.0 401.7 L755.8 400.8 L757.5 404.2 L761.7 405.0 L763.3 410.0 L766.7 412.5 L770.0 411.7 L774.2 409.2 L775.8 413.3 L773.3 418.3 L771.7 425.0 L769.2 428.3 L765.0 430.0 L763.3 426.7 L758.3 425.0 L751.7 423.3 L746.7 423.3 L741.7 425.0 L738.3 426.7 L736.7 420.0 L741.7 415.0 L740.0 410.0 L745.0 411.7Z" fill="#E1640E" stroke="#E1640E" stroke-width="0.8" stroke-linejoin="round"/>
<path d="M710.8 428.3 L716.7 428.3 L725.0 426.7 L733.3 425.0 L738.3 426.7 L738.3 431.7 L741.7 436.7 L746.7 441.7 L748.3 445.0 L743.3 446.7 L738.3 450.0 L735.0 455.0 L730.0 453.3 L725.0 450.0 L720.0 451.7 L713.3 448.3 L710.8 440.0 L710.0 433.3Z" fill="#E1640E" stroke="#E1640E" stroke-width="0.8" stroke-linejoin="round"/>
<path d="M738.3 426.7 L741.7 425.0 L746.7 423.3 L751.7 423.3 L758.3 425.0 L763.3 426.7 L765.0 430.0 L765.8 435.0 L766.7 440.0 L765.8 448.3 L761.7 448.3 L755.0 446.7 L750.0 445.0 L748.3 445.0 L746.7 441.7 L741.7 436.7 L738.3 431.7Z" fill="#FECE65" stroke="#FECE65" stroke-width="0.8" stroke-linejoin="round"/>
<path d="M738.3 450.0 L743.3 446.7 L748.3 445.0 L755.0 446.7 L761.7 448.3 L765.8 448.3 L766.7 453.3 L763.3 456.7 L756.7 460.0 L750.0 462.5 L745.0 461.7 L740.0 460.8 L737.5 456.7 L735.8 453.3Z" fill="#F68720" stroke="#F68720" stroke-width="0.8" stroke-linejoin="round"/>
<path d="M713.3 448.3 L720.0 451.7 L725.0 450.0 L730.0 453.3 L735.0 455.0 L737.5 456.7 L740.0 460.8 L738.3 465.0 L735.0 468.3 L730.0 471.7 L725.0 473.3 L716.7 476.7 L710.0 480.0 L706.7 476.7 L707.5 468.3 L710.0 460.0 L711.7 453.3Z" fill="#FEAC3A" stroke="#FEAC3A" stroke-width="0.8" stroke-linejoin="round"/>
<path d="M698.3 427.5 L706.7 426.7 L710.8 428.3 L710.0 433.3 L710.8 440.0 L713.3 448.3 L711.7 453.3 L710.0 460.0 L707.5 468.3 L706.7 476.7 L698.3 478.3Z" fill="#FFF8C1" stroke="#FFF8C1" stroke-width="0.8" stroke-linejoin="round"/>
<path d="M769.2 439.2 L775.0 440.0 L783.3 441.7 L790.8 442.5 L791.7 446.7 L790.0 453.3 L790.8 458.3 L790.0 464.2 L783.3 463.3 L778.3 461.7 L773.3 458.3 L770.0 453.3 L767.5 448.3 L765.8 448.3 L766.7 440.0Z" fill="#FEE79B" stroke="#FEE79B" stroke-width="0.8" stroke-linejoin="round"/>
<path d="M750.0 462.5 L756.7 460.0 L763.3 456.7 L766.7 453.3 L770.0 453.3 L773.3 458.3 L778.3 461.7 L780.0 466.7 L775.0 468.3 L766.7 466.7 L756.7 465.0 L750.8 465.0Z" fill="#FFFFE5" stroke="#FFFFE5" stroke-width="0.8" stroke-linejoin="round"/>
<path d="M790.8 442.5 L800.0 442.5 L803.3 446.7 L800.0 450.0 L796.7 455.0 L793.3 460.0 L790.8 458.3 L790.0 453.3 L791.7 446.7Z" fill="#F68720" stroke="#F68720" stroke-width="0.8" stroke-linejoin="round"/>
<path d="M808.3 328.3 L816.7 325.0 L825.0 321.7 L826.7 315.0 L833.3 313.3 L836.7 310.8 L843.3 311.7 L846.7 318.3 L850.0 321.7 L851.7 326.7 L849.2 330.0 L851.7 335.0 L860.0 337.5 L866.7 338.3 L865.0 343.3 L861.7 346.7 L866.7 350.0 L870.0 352.5 L861.7 354.2 L856.7 356.7 L850.0 355.8 L845.0 356.7 L840.0 358.3 L838.3 361.7 L836.7 361.7 L833.3 358.3 L833.3 353.3 L831.7 350.0 L825.0 346.7 L821.7 343.3 L818.3 345.0 L815.0 341.7 L813.3 336.7 L810.0 333.3Z" fill="#FFF8C1" stroke="#FFF8C1" stroke-width="0.8" stroke-linejoin="round"/>
<path d="M838.3 361.7 L840.0 358.3 L845.0 356.7 L850.0 355.8 L856.7 356.7 L860.0 360.0 L861.7 365.0 L860.0 370.0 L864.2 375.0 L861.7 379.2 L856.7 381.7 L853.3 385.8 L849.2 383.3 L846.7 380.0 L845.0 378.3 L843.3 373.3 L838.3 368.3 L841.7 365.0Z" fill="#FFFFE5" stroke="#FFFFE5" stroke-width="0.8" stroke-linejoin="round"/>
<path d="M590.0 413.3 L593.3 415.0 L600.0 418.3 L606.7 421.7 L613.3 426.7 L618.3 430.0 L616.7 435.0 L620.0 440.0 L620.8 445.0 L618.3 450.0 L620.0 455.0 L616.7 457.5 L613.3 456.7 L610.8 450.0 L606.7 445.0 L603.3 445.0 L603.3 440.0 L598.3 438.3 L595.0 436.7 L593.3 430.0 L588.3 426.7 L586.7 426.7 L588.3 418.3Z" fill="#E1640E" stroke="#E1640E" stroke-width="0.8" stroke-linejoin="round"/>
<path d="M585.0 447.5 L590.0 450.0 L595.0 455.0 L600.0 451.7 L603.3 445.0 L606.7 445.0 L610.8 450.0 L613.3 456.7 L616.7 457.5 L620.8 459.2 L622.5 463.3 L620.0 466.7 L613.3 468.3 L606.7 468.3 L605.0 473.3 L606.7 481.7 L591.7 481.7 L592.5 473.3 L593.3 468.3 L590.0 465.0 L590.0 458.3 L587.5 453.3Z" fill="#933204" stroke="#933204" stroke-width="0.8" stroke-linejoin="round"/>
<path d="M576.7 443.3 L581.7 442.5 L586.7 445.0 L585.0 447.5 L587.5 453.3 L590.0 458.3 L590.0 465.0 L586.7 465.0 L581.7 461.7 L576.7 460.0 L573.3 455.0 L572.5 450.0Z" fill="#FECE65" stroke="#FECE65" stroke-width="0.8" stroke-linejoin="round"/>
<path d="M654.2 415.0 L656.7 411.7 L660.8 409.2 L666.7 412.5 L673.3 411.7 L680.0 411.7 L680.8 406.7 L685.0 405.8 L683.3 403.3 L685.0 398.3 L690.0 393.3 L695.0 388.3 L700.0 383.3 L701.7 383.3 L701.7 421.7 L695.0 416.7 L688.3 418.3 L683.3 420.0 L680.0 423.3 L675.0 421.7 L670.0 418.3 L665.0 421.7 L660.0 425.0 L655.0 421.7Z" fill="#FFFFE5" stroke="#FFFFE5" stroke-width="0.8" stroke-linejoin="round"/>
<path d="M655.0 421.7 L660.0 425.0 L665.0 421.7 L670.0 418.3 L675.0 421.7 L680.0 423.3 L683.3 420.0 L688.3 418.3 L695.0 416.7 L701.7 421.7 L701.7 458.3 L693.3 455.0 L686.7 453.3 L682.5 456.7 L679.2 453.3 L679.2 443.3 L678.3 438.3 L673.3 436.7 L670.0 433.3 L665.0 431.7 L660.0 428.3Z" fill="#FFF8C1" stroke="#FFF8C1" stroke-width="0.8" stroke-linejoin="round"/>
<path d="M661.7 461.7 L668.3 460.8 L676.7 460.0 L679.2 456.7 L682.5 456.7 L680.0 463.3 L678.3 468.3 L683.3 471.7 L686.7 473.3 L683.3 481.7 L666.7 481.7 L666.7 471.7 L664.2 466.7Z" fill="#F68720" stroke="#F68720" stroke-width="0.8" stroke-linejoin="round"/>
<path d="M640.0 465.8 L646.7 465.0 L651.7 468.3 L658.3 470.0 L664.2 466.7 L666.7 471.7 L666.7 481.7 L638.3 481.7 L639.2 471.7Z" fill="#FEE79B" stroke="#FEE79B" stroke-width="0.8" stroke-linejoin="round"/>
<path d="M691.7 461.7 L701.7 458.3 L701.7 481.7 L683.3 481.7 L686.7 473.3 L683.3 471.7 L678.3 468.3 L681.7 468.3 L686.7 465.0Z" fill="#FEE79B" stroke="#FEE79B" stroke-width="0.8" stroke-linejoin="round"/>
<path d="M698.3 501.7 L705.0 503.3 L710.0 503.3 L716.7 505.0 L720.0 501.7 L725.0 508.3 L730.0 515.0 L733.3 518.3 L725.0 521.7 L721.7 526.7 L718.3 531.7 L713.3 531.7 L708.3 533.3 L706.7 536.7 L710.0 541.7 L708.3 551.7 L703.3 553.3 L698.3 546.7Z" fill="#FFFFE5" stroke="#FFFFE5" stroke-width="0.8" stroke-linejoin="round"/>
<path d="M711.7 478.3 L748.3 478.3 L746.7 485.0 L743.3 490.0 L741.7 493.3 L748.3 495.0 L755.0 496.7 L763.3 498.3 L766.7 503.3 L761.7 505.0 L758.3 510.0 L760.0 515.0 L766.7 518.3 L770.0 520.0 L766.7 521.7 L756.7 520.8 L750.0 520.0 L743.3 520.0 L738.3 519.2 L733.3 518.3 L730.0 515.0 L725.0 508.3 L720.0 501.7 L718.3 495.0 L715.0 486.7Z" fill="#FEAC3A" stroke="#FEAC3A" stroke-width="0.8" stroke-linejoin="round"/>
<path d="M748.3 478.3 L766.7 478.3 L765.8 485.0 L763.3 491.7 L764.2 496.7 L755.0 496.7 L748.3 495.0 L741.7 493.3 L743.3 490.0 L746.7 485.0Z" fill="#FFFFE5" stroke="#FFFFE5" stroke-width="0.8" stroke-linejoin="round"/>
<path d="M764.2 498.3 L771.7 497.5 L780.0 498.3 L786.7 501.7 L790.0 506.7 L786.7 513.3 L785.0 518.3 L780.0 521.7 L775.0 518.3 L770.0 520.0 L766.7 518.3 L760.0 515.0 L758.3 510.0 L761.7 505.0 L766.7 503.3Z" fill="#FFFFE5" stroke="#FFFFE5" stroke-width="0.8" stroke-linejoin="round"/>
<path d="M766.7 478.3 L803.3 478.3 L802.5 486.7 L800.0 491.7 L798.3 496.7 L795.0 500.0 L790.8 505.0 L790.0 506.7 L786.7 501.7 L780.0 498.3 L771.7 497.5 L764.2 498.3 L764.2 496.7 L763.3 491.7 L765.8 485.0Z" fill="#FEE79B" stroke="#FEE79B" stroke-width="0.8" stroke-linejoin="round"/>
<path d="M803.3 486.7 L806.7 485.8 L811.7 488.3 L816.7 492.5 L820.0 496.7 L824.2 500.0 L822.5 506.7 L816.7 507.5 L811.7 506.7 L808.3 501.7 L805.0 496.7 L802.5 491.7Z" fill="#F68720" stroke="#F68720" stroke-width="0.8" stroke-linejoin="round"/>
<path d="M790.8 505.0 L795.0 500.0 L798.3 496.7 L802.5 491.7 L805.0 496.7 L808.3 501.7 L811.7 506.7 L816.7 507.5 L820.0 511.7 L816.7 516.7 L813.3 521.7 L808.3 520.0 L806.7 517.5 L800.0 516.7 L796.7 513.3 L794.2 509.2Z" fill="#FEE79B" stroke="#FEE79B" stroke-width="0.8" stroke-linejoin="round"/>
<path d="M790.0 506.7 L790.8 505.0 L794.2 509.2 L796.7 513.3 L800.0 516.7 L796.7 517.5 L793.3 515.0 L786.7 515.0 L786.7 513.3Z" fill="#FEE79B" stroke="#FEE79B" stroke-width="0.8" stroke-linejoin="round"/>
<path d="M770.0 520.0 L775.0 518.3 L780.0 521.7 L785.0 518.3 L786.7 515.0 L793.3 515.0 L796.7 517.5 L800.0 516.7 L806.7 517.5 L808.3 520.0 L808.3 530.0 L803.3 533.3 L798.3 537.5 L793.3 536.7 L788.3 533.3 L783.3 533.3 L778.3 530.0 L773.3 528.3 L770.8 525.0Z" fill="#F68720" stroke="#F68720" stroke-width="0.8" stroke-linejoin="round"/>
<path d="M808.3 520.0 L813.3 521.7 L816.7 516.7 L820.0 511.7 L822.5 506.7 L824.2 500.0 L826.7 498.3 L825.8 496.7 L826.7 487.5 L828.3 478.3 L830.0 484.2 L833.3 488.3 L841.7 491.7 L846.7 496.7 L848.3 503.3 L851.7 508.3 L855.0 513.3 L860.0 510.0 L864.2 509.2 L866.7 515.0 L868.3 520.0 L865.0 523.3 L865.0 530.0 L866.7 536.7 L866.7 542.5 L860.0 541.7 L855.0 546.7 L850.0 550.0 L843.3 551.7 L836.7 555.0 L831.7 558.3 L826.7 563.3 L824.2 568.3 L820.0 570.8 L815.0 571.7 L811.7 570.0 L810.0 561.7 L806.7 555.0 L808.3 550.0 L810.8 548.3 L806.7 544.2 L801.7 541.7 L798.3 537.5 L803.3 533.3 L808.3 530.0Z" fill="#FFF8C1" stroke="#FFF8C1" stroke-width="0.8" stroke-linejoin="round"/>
<path d="M828.3 478.3 L848.3 478.3 L847.5 486.7 L848.3 488.3 L841.7 491.7 L833.3 488.3 L830.0 484.2Z" fill="#F68720" stroke="#F68720" stroke-width="0.8" stroke-linejoin="round"/>
<path d="M848.3 478.3 L875.0 478.3 L872.5 488.3 L866.7 490.0 L860.0 493.3 L855.0 498.3 L850.0 501.7 L846.7 496.7 L850.0 493.3 L848.3 488.3 L847.5 486.7Z" fill="#FEE79B" stroke="#FEE79B" stroke-width="0.8" stroke-linejoin="round"/>
<path d="M850.0 501.7 L855.0 498.3 L860.0 493.3 L866.7 490.0 L872.5 488.3 L873.3 496.7 L876.7 503.3 L875.0 508.3 L870.0 511.7 L866.7 515.0 L864.2 509.2 L860.0 510.0 L855.0 513.3 L851.7 508.3 L848.3 503.3Z" fill="#FEAC3A" stroke="#FEAC3A" stroke-width="0.8" stroke-linejoin="round"/>
<path d="M866.7 515.0 L870.0 511.7 L875.0 508.3 L876.7 503.3 L883.3 505.0 L885.0 511.7 L879.2 515.0 L876.7 521.7 L873.3 523.3 L868.3 520.0Z" fill="#FECE65" stroke="#FECE65" stroke-width="0.8" stroke-linejoin="round"/>
<path d="M868.3 520.0 L873.3 523.3 L876.7 521.7 L879.2 515.0 L885.0 511.7 L888.3 514.2 L889.2 521.7 L886.7 528.3 L883.3 533.3 L878.3 536.7 L873.3 538.3 L871.7 543.3 L866.7 542.5 L866.7 536.7 L865.0 530.0 L865.0 523.3Z" fill="#F68720" stroke="#F68720" stroke-width="0.8" stroke-linejoin="round"/>
<path d="M888.3 514.2 L895.0 513.3 L901.7 515.0 L901.7 530.0 L895.0 528.3 L890.0 530.0 L886.7 528.3 L889.2 521.7Z" fill="#FFF8C1" stroke="#FFF8C1" stroke-width="0.8" stroke-linejoin="round"/>
<path d="M873.3 538.3 L878.3 536.7 L883.3 533.3 L886.7 528.3 L890.0 530.0 L895.0 528.3 L901.7 530.0 L901.7 546.7 L893.3 543.3 L886.7 545.0 L881.7 545.0 L876.7 543.3 L875.0 546.7 L871.7 543.3Z" fill="#FEE79B" stroke="#FEE79B" stroke-width="0.8" stroke-linejoin="round"/>
<path d="M833.3 571.7 L835.0 566.7 L841.7 561.7 L846.7 558.3 L850.0 560.0 L853.3 565.0 L858.3 565.0 L860.8 565.0 L860.0 570.0 L856.7 573.3 L850.0 578.3 L845.0 580.0 L841.7 576.7 L836.7 575.0Z" fill="#FEE79B" stroke="#FEE79B" stroke-width="0.8" stroke-linejoin="round"/>
<path d="M875.0 546.7 L876.7 543.3 L881.7 545.0 L886.7 545.0 L888.3 550.0 L886.7 555.0 L890.0 560.0 L893.3 561.7 L888.3 565.0 L881.7 566.7 L876.7 565.0 L871.7 566.7 L865.0 570.0 L860.0 570.0 L860.8 565.0 L865.0 561.7 L870.0 558.3 L871.7 551.7Z" fill="#FEE79B" stroke="#FEE79B" stroke-width="0.8" stroke-linejoin="round"/>
<path d="M860.0 570.0 L865.0 570.0 L871.7 566.7 L876.7 565.0 L881.7 566.7 L885.0 570.0 L880.0 573.3 L876.7 578.3 L873.3 581.7 L866.7 583.3 L860.0 585.0 L855.0 581.7 L851.7 580.0 L856.7 573.3Z" fill="#FECE65" stroke="#FECE65" stroke-width="0.8" stroke-linejoin="round"/>
<path d="M886.7 545.0 L893.3 543.3 L901.7 546.7 L901.7 583.3 L895.0 586.7 L891.7 593.3 L888.3 595.0 L887.5 588.3 L890.0 581.7 L891.7 575.0 L888.3 570.0 L888.3 565.0 L893.3 561.7 L890.0 560.0 L886.7 555.0 L888.3 550.0Z" fill="#FFFFE5" stroke="#FFFFE5" stroke-width="0.8" stroke-linejoin="round"/>
<path d="M846.7 585.0 L851.7 580.0 L855.0 581.7 L860.0 585.0 L866.7 583.3 L873.3 581.7 L876.7 578.3 L880.0 573.3 L885.0 570.0 L888.3 570.0 L891.7 575.0 L890.0 581.7 L887.5 588.3 L888.3 595.0 L883.3 600.0 L880.0 606.7 L876.7 613.3 L877.5 620.0 L881.7 623.3 L888.3 621.7 L890.0 626.7 L888.3 630.0 L881.7 636.7 L875.0 638.3 L866.7 640.0 L860.0 638.3 L855.0 635.0 L850.0 630.0 L843.3 626.7 L836.7 625.0 L833.3 621.7 L831.7 616.7 L833.3 611.7 L838.3 610.0 L845.0 608.3 L850.0 605.0 L855.0 603.3 L853.3 596.7 L850.0 591.7 L847.5 588.3Z" fill="#FFFFE5" stroke="#FFFFE5" stroke-width="0.8" stroke-linejoin="round"/>
<path d="M888.3 595.0 L891.7 593.3 L895.0 586.7 L901.7 583.3 L901.7 613.3 L895.0 618.3 L890.0 626.7 L888.3 621.7 L881.7 623.3 L877.5 620.0 L876.7 613.3 L880.0 606.7 L883.3 600.0Z" fill="#FECE65" stroke="#FECE65" stroke-width="0.8" stroke-linejoin="round"/>
<path d="M833.3 580.0 L841.7 576.7 L845.0 580.0 L850.0 578.3 L851.7 580.0 L846.7 585.0 L847.5 588.3 L850.0 591.7 L853.3 596.7 L855.0 603.3 L850.0 605.0 L845.0 608.3 L838.3 610.0 L833.3 611.7 L831.7 606.7 L833.3 600.0 L831.7 593.3 L832.5 586.7Z" fill="#FFFFE5" stroke="#FFFFE5" stroke-width="0.8" stroke-linejoin="round"/>
<path d="M803.3 593.3 L806.7 590.0 L813.3 586.7 L820.0 583.3 L828.3 581.7 L833.3 580.0 L832.5 586.7 L831.7 593.3 L828.3 596.7 L823.3 598.3 L820.0 601.7 L815.0 603.3 L811.7 602.5 L808.3 596.7Z" fill="#FFFFE5" stroke="#FFFFE5" stroke-width="0.8" stroke-linejoin="round"/>
<path d="M776.7 595.0 L786.7 594.2 L790.8 591.7 L795.0 587.5 L799.2 588.3 L800.0 591.7 L800.8 600.0 L806.7 602.5 L811.7 604.2 L810.8 610.0 L806.7 613.3 L800.0 610.8 L795.0 611.7 L788.3 609.2 L783.3 611.7 L782.5 616.7 L778.3 617.5 L775.8 613.3 L772.5 611.7 L775.0 608.3 L778.3 605.0 L778.3 600.0Z" fill="#E1640E" stroke="#E1640E" stroke-width="0.8" stroke-linejoin="round"/>
<path d="M716.7 568.3 L725.0 566.7 L733.3 570.0 L741.7 576.7 L750.0 578.3 L756.7 575.0 L761.7 578.3 L766.7 573.3 L768.3 580.0 L770.0 586.7 L773.3 586.7 L775.0 590.0 L776.7 595.0 L778.3 600.0 L778.3 605.0 L775.0 608.3 L772.5 611.7 L766.7 616.7 L760.0 611.7 L753.3 608.3 L746.7 608.3 L740.0 611.7 L738.3 616.7 L743.3 620.0 L750.0 621.7 L756.7 621.7 L758.3 626.7 L760.0 633.3 L758.3 640.0 L756.7 646.7 L750.0 646.7 L741.7 646.7 L740.0 640.0 L733.3 633.3 L730.0 628.3 L731.7 623.3 L723.3 618.3 L716.7 613.3 L715.8 606.7 L720.0 596.7 L716.7 588.3 L721.7 580.0Z" fill="#FFFFE5" stroke="#FFFFE5" stroke-width="0.8" stroke-linejoin="round"/>
<path d="M711.7 540.0 L716.7 536.7 L723.3 538.3 L730.0 540.8 L735.8 541.7 L738.3 546.7 L738.3 553.3 L735.8 558.3 L733.3 561.7 L729.2 561.7 L728.3 564.2 L721.7 565.8 L716.7 566.7 L711.7 565.8 L707.5 568.3 L708.3 560.0 L710.0 551.7Z" fill="#C14702" stroke="#C14702" stroke-width="0.8" stroke-linejoin="round"/>
<path d="M718.3 531.7 L721.7 526.7 L725.0 521.7 L733.3 518.3 L738.3 519.2 L743.3 520.0 L750.0 520.0 L756.7 520.8 L755.0 526.7 L750.0 533.3 L746.7 536.7 L740.0 537.5 L735.8 541.7 L730.0 540.8 L723.3 538.3 L716.7 536.7Z" fill="#F68720" stroke="#F68720" stroke-width="0.8" stroke-linejoin="round"/>
<path d="M756.7 520.8 L766.7 521.7 L770.0 520.0 L770.8 525.0 L773.3 528.3 L776.7 531.7 L773.3 535.0 L770.0 537.5 L763.3 540.0 L756.7 538.3 L751.7 536.7 L750.0 533.3 L755.0 526.7Z" fill="#FFF8C1" stroke="#FFF8C1" stroke-width="0.8" stroke-linejoin="round"/>
<path d="M778.3 536.7 L783.3 533.3 L788.3 533.3 L793.3 536.7 L798.3 537.5 L801.7 541.7 L806.7 544.2 L810.8 548.3 L808.3 550.0 L806.7 555.0 L810.0 561.7 L811.7 570.0 L808.3 572.5 L800.0 573.3 L795.0 566.7 L791.7 563.3 L786.7 565.0 L783.3 570.0 L778.3 568.3 L773.3 566.7 L766.7 566.7 L768.3 560.0 L771.7 555.0 L775.0 550.0 L778.3 543.3 L781.7 539.2 L776.7 531.7 L778.3 530.0Z" fill="#FFFFE5" stroke="#FFFFE5" stroke-width="0.8" stroke-linejoin="round"/>
<path d="M766.7 566.7 L773.3 566.7 L778.3 568.3 L783.3 570.0 L786.7 565.0 L791.7 563.3 L795.0 566.7 L800.0 573.3 L793.3 575.0 L786.7 578.3 L780.0 581.7 L773.3 586.7 L770.0 586.7 L768.3 580.0 L766.7 573.3Z" fill="#FEE79B" stroke="#FEE79B" stroke-width="0.8" stroke-linejoin="round"/>
<path d="M728.3 564.2 L729.2 561.7 L733.3 561.7 L735.8 558.3 L738.3 559.2 L743.3 560.0 L750.0 561.7 L756.7 566.7 L761.7 568.3 L766.7 566.7 L766.7 573.3 L761.7 578.3 L756.7 575.0 L750.0 578.3 L741.7 576.7 L733.3 570.0 L725.0 566.7Z" fill="#FFF8C1" stroke="#FFF8C1" stroke-width="0.8" stroke-linejoin="round"/>
<path d="M698.3 645.0 L703.3 646.7 L706.7 650.8 L711.7 645.0 L718.3 643.3 L725.0 645.0 L725.8 651.7 L726.7 656.7 L725.0 663.3 L721.7 668.3 L720.0 673.3 L716.7 681.7 L698.3 681.7Z" fill="#FFFFE5" stroke="#FFFFE5" stroke-width="0.8" stroke-linejoin="round"/>
<path d="M754.2 668.3 L756.7 663.3 L761.7 661.7 L766.7 663.3 L773.3 661.7 L778.3 663.3 L786.7 663.3 L787.5 668.3 L783.3 673.3 L780.0 681.7 L755.0 681.7 L756.7 673.3Z" fill="#FFFFE5" stroke="#FFFFE5" stroke-width="0.8" stroke-linejoin="round"/>
<path d="M806.7 663.3 L810.0 658.3 L813.3 651.7 L820.0 650.0 L826.7 653.3 L831.7 656.7 L836.7 661.7 L838.3 668.3 L838.3 675.0 L833.3 676.7 L830.0 681.7 L806.7 681.7 L808.3 671.7Z" fill="#FFFFE5" stroke="#FFFFE5" stroke-width="0.8" stroke-linejoin="round"/>
<path d="M881.2 428.8 L911.2 428.8 L910.0 431.2 L900.0 435.0 L896.2 438.8 L893.8 442.5 L887.5 446.2 L883.8 450.0 L880.0 453.8 L876.2 456.9 L873.8 461.2 L868.8 466.2 L867.5 461.2 L871.2 455.0 L875.0 450.0 L876.2 445.0 L880.0 437.5Z" fill="#FEAC3A" stroke="#FEAC3A" stroke-width="0.8" stroke-linejoin="round"/>
<path d="M848.8 428.8 L881.2 428.8 L880.0 437.5 L876.2 445.0 L875.0 450.0 L868.8 446.2 L862.5 443.8 L857.5 441.2 L848.8 442.5Z" fill="#F68720" stroke="#F68720" stroke-width="0.8" stroke-linejoin="round"/>
<path d="M857.5 441.2 L862.5 443.8 L868.8 446.2 L875.0 450.0 L871.2 455.0 L867.5 461.2 L868.8 466.2 L862.5 466.2 L860.0 470.0 L858.8 465.0 L857.5 457.5 L858.8 452.5 L857.5 447.5Z" fill="#FEAC3A" stroke="#FEAC3A" stroke-width="0.8" stroke-linejoin="round"/>
<path d="M848.8 442.5 L857.5 441.2 L857.5 447.5 L858.8 452.5 L857.5 457.5 L858.8 465.0 L860.0 470.0 L856.2 472.5 L853.8 476.2 L848.8 477.5Z" fill="#FECE65" stroke="#FECE65" stroke-width="0.8" stroke-linejoin="round"/>
<path d="M862.5 466.2 L868.8 466.2 L872.5 472.5 L876.9 476.9 L878.8 478.8 L875.0 482.5 L872.5 487.5 L873.1 492.5 L871.9 497.5 L875.0 502.5 L876.2 507.5 L870.0 510.0 L866.2 505.0 L865.0 500.0 L866.2 492.5 L865.0 486.2 L866.2 480.0 L862.5 478.8 L858.8 480.0 L853.8 482.5 L848.8 485.0 L848.8 477.5 L853.8 476.2 L856.2 472.5 L860.0 470.0Z" fill="#F68720" stroke="#F68720" stroke-width="0.8" stroke-linejoin="round"/>
<path d="M878.8 478.8 L881.2 477.5 L887.5 480.0 L890.0 486.2 L893.1 493.8 L896.9 501.9 L898.8 510.0 L900.0 515.0 L893.8 515.0 L887.5 513.8 L886.2 510.0 L886.9 505.0 L882.5 503.8 L876.9 502.5 L875.0 502.5 L871.9 497.5 L873.1 492.5 L872.5 487.5 L875.0 482.5Z" fill="#E1640E" stroke="#E1640E" stroke-width="0.8" stroke-linejoin="round"/>
<path d="M848.8 485.0 L853.8 482.5 L858.8 480.0 L862.5 478.8 L866.2 480.0 L865.0 486.2 L866.2 492.5 L865.0 500.0 L866.2 505.0 L870.0 510.0 L867.5 515.0 L865.0 520.0 L862.5 522.5 L857.5 520.0 L855.0 515.0 L848.8 512.5Z" fill="#FEAC3A" stroke="#FEAC3A" stroke-width="0.8" stroke-linejoin="round"/>
<path d="M875.0 502.5 L876.9 502.5 L882.5 503.8 L886.9 505.0 L886.2 510.0 L887.5 513.8 L888.8 520.0 L890.0 526.2 L886.2 528.8 L883.8 532.5 L882.5 537.5 L878.8 538.8 L875.0 540.0 L872.5 545.0 L868.8 542.5 L866.2 537.5 L865.0 530.0 L864.4 525.0 L867.5 522.5 L872.5 521.2 L877.5 517.5 L878.8 512.5 L876.2 507.5Z" fill="#F68720" stroke="#F68720" stroke-width="0.8" stroke-linejoin="round"/>
<path d="M887.5 513.8 L893.8 515.0 L900.0 515.0 L903.8 516.9 L907.5 518.8 L908.8 523.1 L913.8 526.9 L916.2 530.0 L917.5 533.8 L912.5 536.2 L908.8 533.8 L905.0 530.0 L902.5 533.8 L897.5 530.0 L893.8 527.5 L890.0 526.2 L888.8 520.0Z" fill="#FFFFE5" stroke="#FFFFE5" stroke-width="0.8" stroke-linejoin="round"/>
<path d="M848.8 512.5 L855.0 515.0 L857.5 520.0 L862.5 522.5 L864.4 525.0 L865.0 530.0 L866.2 537.5 L868.8 542.5 L865.0 541.2 L861.2 538.8 L857.5 533.8 L853.8 530.0 L848.8 528.8Z" fill="#FFF8C1" stroke="#FFF8C1" stroke-width="0.8" stroke-linejoin="round"/>
<path d="M848.8 528.8 L853.8 530.0 L857.5 533.8 L861.2 538.8 L860.0 541.2 L855.0 540.0 L848.8 538.8Z" fill="#E1640E" stroke="#E1640E" stroke-width="0.8" stroke-linejoin="round"/>
<path d="M872.5 545.0 L875.0 540.0 L878.8 538.8 L882.5 537.5 L883.8 532.5 L886.2 528.8 L890.0 526.2 L893.8 527.5 L897.5 530.0 L902.5 533.8 L901.2 537.5 L903.8 540.0 L900.0 543.8 L898.8 547.5 L896.2 548.8 L892.5 552.5 L888.8 550.0 L885.0 548.8 L881.2 546.2 L877.5 545.0 L875.0 546.2Z" fill="#FEE79B" stroke="#FEE79B" stroke-width="0.8" stroke-linejoin="round"/>
<path d="M902.5 533.8 L905.0 530.0 L908.8 533.8 L912.5 536.2 L917.5 533.8 L916.9 538.8 L918.1 543.1 L916.9 545.0 L917.5 550.0 L918.1 555.0 L912.5 555.0 L906.2 555.6 L902.5 552.5 L900.0 550.0 L898.8 547.5 L900.0 543.8 L903.8 540.0 L901.2 537.5Z" fill="#FEE79B" stroke="#FEE79B" stroke-width="0.8" stroke-linejoin="round"/>
<path d="M875.0 546.2 L877.5 545.0 L881.2 546.2 L885.0 548.8 L888.8 550.0 L891.2 553.8 L887.5 556.2 L887.5 560.0 L892.5 562.5 L893.8 565.0 L890.0 567.5 L885.0 570.0 L881.2 573.8 L877.5 577.5 L875.0 581.2 L858.8 581.2 L861.2 573.8 L862.5 567.5 L863.8 562.5 L868.8 560.0 L870.0 555.0 L873.8 551.2Z" fill="#FECE65" stroke="#FECE65" stroke-width="0.8" stroke-linejoin="round"/>
<path d="M892.5 552.5 L896.2 548.8 L898.8 547.5 L900.0 550.0 L902.5 552.5 L906.2 555.6 L901.2 557.5 L905.0 560.6 L908.8 564.4 L912.5 567.5 L910.0 568.8 L905.0 566.2 L900.0 561.2 L897.5 562.5 L893.8 565.0 L892.5 562.5 L887.5 560.0 L887.5 556.2 L891.2 553.8Z" fill="#FFFFE5" stroke="#FFFFE5" stroke-width="0.8" stroke-linejoin="round"/>
<path d="M893.8 565.0 L897.5 562.5 L900.0 561.2 L905.0 566.2 L910.0 568.8 L912.5 567.5 L915.6 571.9 L917.5 573.8 L916.2 576.2 L917.5 581.2 L900.0 581.2 L898.8 573.8 L896.2 568.8Z" fill="#FFF8C1" stroke="#FFF8C1" stroke-width="0.8" stroke-linejoin="round"/>
<path d="M877.5 577.5 L881.2 573.8 L885.0 570.0 L890.0 567.5 L893.8 565.0 L896.2 568.8 L898.8 573.8 L900.0 581.2 L875.0 581.2Z" fill="#FFFFE5" stroke="#FFFFE5" stroke-width="0.8" stroke-linejoin="round"/>
<path d="M678.3 658.3 L698.3 658.3 L696.7 666.7 L700.0 673.3 L705.0 678.3 L706.7 683.3 L701.7 686.7 L695.0 690.8 L690.0 688.3 L683.3 685.0 L681.7 676.7 L685.0 670.0 L680.0 666.7Z" fill="#FFF8C1" stroke="#FFF8C1" stroke-width="0.8" stroke-linejoin="round"/>
<path d="M698.3 658.3 L721.7 658.3 L720.0 666.7 L723.3 673.3 L720.0 680.0 L713.3 682.5 L706.7 683.3 L705.0 678.3 L700.0 673.3 L696.7 666.7Z" fill="#FFFFE5" stroke="#FFFFE5" stroke-width="0.8" stroke-linejoin="round"/>
<path d="M675.0 691.7 L680.0 683.3 L683.3 685.0 L690.0 688.3 L695.0 690.8 L701.7 686.7 L706.7 683.3 L710.0 688.3 L705.0 693.3 L698.3 700.0 L693.3 704.2 L686.7 705.0 L681.7 700.0 L676.7 696.7Z" fill="#FECE65" stroke="#FECE65" stroke-width="0.8" stroke-linejoin="round"/>
<path d="M655.0 708.3 L660.0 703.3 L665.0 698.3 L671.7 695.8 L676.7 696.7 L681.7 700.0 L686.7 705.0 L690.0 710.0 L691.7 715.0 L688.3 718.3 L681.7 720.0 L676.7 723.3 L671.7 726.7 L666.7 721.7 L665.0 715.0 L658.3 713.3Z" fill="#FFFFE5" stroke="#FFFFE5" stroke-width="0.8" stroke-linejoin="round"/>
<path d="M686.7 705.0 L693.3 704.2 L698.3 700.0 L705.0 693.3 L710.0 695.0 L713.3 701.7 L711.7 708.3 L706.7 711.7 L700.0 715.0 L691.7 715.0 L690.0 710.0Z" fill="#FFF8C1" stroke="#FFF8C1" stroke-width="0.8" stroke-linejoin="round"/>
<path d="M681.7 736.7 L688.3 734.2 L696.7 734.2 L698.3 738.3 L698.3 743.3 L693.3 742.5 L685.8 743.3 L681.7 740.0Z" fill="#FECE65" stroke="#FECE65" stroke-width="0.8" stroke-linejoin="round"/>
<path d="M708.3 738.3 L711.7 731.7 L715.0 726.7 L720.0 721.7 L725.0 719.2 L730.0 721.7 L728.3 726.7 L725.8 731.7 L726.7 738.3 L725.0 743.3 L718.3 745.0 L713.3 746.7 L711.7 741.7Z" fill="#FFFFE5" stroke="#FFFFE5" stroke-width="0.8" stroke-linejoin="round"/>
<path d="M725.8 731.7 L728.3 726.7 L731.7 722.5 L735.0 718.3 L738.3 723.3 L740.8 730.0 L744.2 735.0 L740.0 737.5 L733.3 740.0 L726.7 741.7 L726.7 738.3Z" fill="#FEE79B" stroke="#FEE79B" stroke-width="0.8" stroke-linejoin="round"/>
<path d="M728.3 703.3 L731.7 698.3 L735.0 693.3 L740.0 688.3 L743.3 683.3 L746.7 688.3 L750.0 693.3 L752.5 698.3 L753.3 705.0 L750.0 710.0 L745.0 711.7 L741.7 709.2 L735.0 710.0 L730.0 708.3Z" fill="#FFF8C1" stroke="#FFF8C1" stroke-width="0.8" stroke-linejoin="round"/>
<path d="M753.3 670.0 L756.7 665.0 L760.0 663.3 L770.0 661.7 L776.7 665.0 L783.3 663.3 L788.3 665.0 L785.0 670.0 L781.7 673.3 L778.3 678.3 L780.0 683.3 L778.3 688.3 L783.3 693.3 L788.3 698.3 L793.3 703.3 L798.3 705.0 L795.0 710.0 L791.7 713.3 L790.0 717.5 L785.0 717.5 L781.7 721.7 L778.3 725.0 L775.0 726.7 L771.7 725.8 L770.0 718.3 L766.7 716.7 L761.7 717.5 L758.3 721.7 L756.7 716.7 L750.0 717.5 L745.0 715.0 L745.0 711.7 L750.0 710.0 L753.3 705.0 L756.7 701.7 L763.3 700.0 L770.0 695.0 L771.7 690.0 L770.0 685.0 L765.0 681.7 L760.0 681.7 L755.0 678.3Z" fill="#FFFFE5" stroke="#FFFFE5" stroke-width="0.8" stroke-linejoin="round"/>
<path d="M506.2 577.9 L560.4 577.9 L560.4 588.3 L557.3 594.6 L553.1 598.8 L552.1 601.9 L547.9 599.8 L545.8 594.6 L541.7 589.4 L537.5 587.3 L533.3 590.4 L532.3 596.7 L530.2 602.9 L529.2 609.2 L525.0 607.1 L522.9 600.8 L519.8 595.6 L516.7 593.5 L512.5 600.8 L511.5 605.0 L509.4 599.8 L507.3 592.5Z" fill="#C14702" stroke="#C14702" stroke-width="0.8" stroke-linejoin="round"/>
<path d="M503.1 654.0 L506.2 648.8 L511.5 642.5 L514.6 638.3 L522.9 637.3 L529.2 638.3 L531.2 646.7 L535.4 647.7 L541.7 643.5 L547.9 641.5 L554.2 645.6 L560.4 648.8 L564.6 652.9 L565.6 661.2 L563.5 669.6 L558.3 675.8 L558.3 683.1 L552.1 686.2 L546.9 682.1 L541.7 677.9 L533.3 675.8 L527.1 676.9 L522.9 671.7 L516.7 668.5 L511.5 664.4 L508.3 659.2Z" fill="#FEE79B" stroke="#FEE79B" stroke-width="0.8" stroke-linejoin="round"/>
<path d="M579.2 637.3 L583.3 632.1 L588.5 629.0 L591.7 624.8 L589.6 630.0 L591.7 636.2 L595.8 639.4 L600.0 637.3 L604.2 638.3 L606.2 642.5 L604.2 648.8 L602.1 655.0 L604.2 661.2 L607.3 665.4 L606.2 671.7 L604.2 676.9 L603.1 683.1 L597.9 682.1 L593.8 677.9 L587.5 674.8 L583.3 669.6 L582.3 663.3 L585.4 657.1 L583.3 650.8 L581.2 644.6Z" fill="#FFF8C1" stroke="#FFF8C1" stroke-width="0.8" stroke-linejoin="round"/>
<path d="M591.7 624.8 L594.8 621.7 L599.0 622.7 L604.2 620.6 L610.4 622.7 L615.6 620.6 L617.7 615.4 L625.0 614.4 L633.3 615.4 L637.5 618.5 L641.7 621.7 L637.5 625.8 L633.3 632.1 L629.2 638.3 L622.9 641.5 L616.7 640.4 L612.5 636.2 L606.2 642.5 L604.2 638.3 L600.0 637.3 L595.8 639.4 L591.7 636.2 L589.6 630.0Z" fill="#FFF8C1" stroke="#FFF8C1" stroke-width="0.8" stroke-linejoin="round"/>
<path d="M606.2 642.5 L612.5 636.2 L616.7 640.4 L622.9 641.5 L624.0 646.7 L616.7 649.8 L612.5 652.9 L610.4 659.2 L609.4 665.4 L607.3 665.4 L604.2 661.2 L602.1 655.0 L604.2 648.8Z" fill="#FEE79B" stroke="#FEE79B" stroke-width="0.8" stroke-linejoin="round"/>
<path d="M625.0 598.8 L631.2 596.7 L637.5 599.8 L641.7 596.7 L645.8 592.5 L650.0 591.5 L654.2 587.3 L658.3 585.2 L662.5 588.3 L668.8 590.4 L669.8 596.7 L666.7 602.9 L664.6 611.2 L663.5 619.6 L666.7 624.8 L662.5 625.8 L658.3 621.7 L652.1 620.6 L645.8 623.8 L641.7 621.7 L637.5 618.5 L633.3 615.4 L635.4 611.2 L633.3 606.0 L627.1 604.0Z" fill="#FECE65" stroke="#FECE65" stroke-width="0.8" stroke-linejoin="round"/>
<path d="M560.4 577.9 L620.8 577.9 L624.0 584.2 L629.2 588.3 L635.4 592.5 L637.5 599.8 L631.2 596.7 L625.0 598.8 L627.1 604.0 L633.3 606.0 L635.4 611.2 L633.3 615.4 L625.0 614.4 L617.7 615.4 L616.7 608.1 L615.6 600.8 L610.4 596.7 L604.2 590.4 L597.9 587.3 L591.7 590.4 L585.4 594.6 L581.2 598.8 L577.1 592.5 L572.9 587.3 L567.7 588.3 L562.5 590.4 L560.4 588.3Z" fill="#FFF8C1" stroke="#FFF8C1" stroke-width="0.8" stroke-linejoin="round"/>
<path d="M635.4 592.5 L637.5 588.3 L643.8 589.4 L650.0 591.5 L654.2 587.3 L658.3 585.2 L662.5 588.3 L668.8 590.4 L672.9 594.6 L677.1 598.8 L681.2 602.9 L685.4 605.0 L688.5 598.8 L689.6 590.4 L687.5 577.9 L620.8 577.9 L624.0 584.2 L629.2 588.3Z" fill="#FFFFE5" stroke="#FFFFE5" stroke-width="0.8" stroke-linejoin="round"/>
<path d="M566.2 556.2 L572.5 550.0 L580.0 547.5 L587.5 540.0 L593.8 530.0 L591.2 520.0 L595.0 510.0 L602.5 507.5 L602.5 595.0 L592.5 596.2 L585.0 598.8 L580.0 595.0 L575.0 592.5 L567.5 587.5 L561.2 590.0 L557.5 582.5 L563.8 578.8 L562.5 572.5 L565.0 565.0Z" fill="#FFF8C1" stroke="#FFF8C1" stroke-width="0.8" stroke-linejoin="round"/>
<path d="M595.8 482.5 L598.3 482.5 L601.7 480.0 L607.5 481.7 L608.3 478.3 L613.3 476.7 L618.3 475.8 L621.7 480.0 L626.7 483.3 L633.3 482.5 L638.3 481.7 L640.0 486.7 L639.2 491.7 L635.0 495.0 L630.0 495.8 L626.7 499.2 L628.3 505.0 L626.7 509.2 L621.7 510.0 L620.0 512.5 L613.3 514.2 L606.7 513.3 L601.7 510.8 L600.0 506.7 L601.7 501.7 L600.0 496.7 L596.7 493.3 L598.3 488.3Z" fill="#FEE79B" stroke="#FEE79B" stroke-width="0.8" stroke-linejoin="round"/>
<path d="M638.3 481.7 L640.0 476.7 L637.5 473.3 L640.0 466.7 L646.7 465.0 L653.3 468.3 L661.7 466.7 L665.0 473.3 L666.7 481.7 L673.3 482.5 L680.0 480.0 L686.7 478.3 L691.7 481.7 L693.3 486.7 L686.7 488.3 L678.3 489.2 L670.0 490.8 L667.5 495.0 L668.3 501.7 L667.5 508.3 L669.2 515.0 L668.3 520.0 L666.7 522.5 L661.7 520.0 L655.0 516.7 L648.3 513.3 L643.3 514.2 L636.7 512.5 L630.0 510.0 L626.7 509.2 L628.3 505.0 L626.7 499.2 L630.0 495.8 L635.0 495.0 L639.2 491.7 L640.0 486.7Z" fill="#FEE79B" stroke="#FEE79B" stroke-width="0.8" stroke-linejoin="round"/>
<path d="M661.7 461.7 L666.7 458.3 L676.7 458.3 L678.3 465.0 L680.0 470.0 L686.7 472.5 L683.3 476.7 L680.0 480.0 L673.3 482.5 L666.7 481.7 L665.0 473.3 L661.7 466.7Z" fill="#F68720" stroke="#F68720" stroke-width="0.8" stroke-linejoin="round"/>
<path d="M710.0 458.3 L721.7 458.3 L721.7 475.0 L713.3 474.2 L707.5 473.3 L706.7 468.3Z" fill="#FEAC3A" stroke="#FEAC3A" stroke-width="0.8" stroke-linejoin="round"/>
<path d="M708.3 475.0 L713.3 474.2 L721.7 475.0 L721.7 495.0 L716.7 491.7 L713.3 485.0 L710.0 480.0Z" fill="#FFFFE5" stroke="#FFFFE5" stroke-width="0.8" stroke-linejoin="round"/>
<path d="M680.0 470.0 L686.7 472.5 L691.7 475.0 L700.0 478.3 L707.5 473.3 L708.3 475.0 L710.0 480.0 L703.3 483.3 L696.7 485.0 L693.3 486.7 L691.7 481.7 L686.7 478.3 L680.0 480.0 L683.3 476.7Z" fill="#FEE79B" stroke="#FEE79B" stroke-width="0.8" stroke-linejoin="round"/>
<path d="M694.2 504.2 L700.0 503.3 L706.7 502.5 L713.3 503.3 L721.7 502.5 L721.7 533.3 L716.7 530.0 L711.7 531.7 L706.7 535.0 L702.5 533.3 L696.7 533.3 L694.2 526.7 L693.3 518.3 L696.7 515.0 L703.3 513.3 L705.0 510.0 L700.0 508.3 L696.7 506.7Z" fill="#FFFFE5" stroke="#FFFFE5" stroke-width="0.8" stroke-linejoin="round"/>
<path d="M593.3 507.5 L601.7 510.8 L613.3 514.2 L621.7 510.0 L630.0 510.0 L643.3 514.2 L655.0 516.7 L666.7 522.5 L673.3 525.0 L675.8 533.3 L670.0 538.3 L666.7 543.3 L663.3 550.0 L658.3 553.3 L655.0 558.3 L651.7 565.0 L646.7 568.3 L643.3 566.7 L640.0 563.3 L635.0 561.7 L626.7 560.8 L624.2 566.7 L618.3 576.7 L625.0 585.0 L628.3 590.0 L635.0 591.7 L636.7 596.7 L628.3 595.8 L625.0 598.3 L626.7 603.3 L635.0 606.7 L635.8 611.7 L625.0 615.8 L618.3 620.0 L606.7 620.8 L596.7 620.0 L590.0 626.7 L583.3 635.0 L578.3 636.7 L576.7 626.7 L575.0 621.7 L581.7 615.0 L585.0 606.7 L591.7 598.3 L596.7 596.7 L601.7 596.7 L600.0 591.7 L595.0 588.3 L590.0 591.7 L583.3 593.3 L581.7 598.3 L575.0 593.3 L573.3 586.7 L568.3 583.3 L563.3 586.7 L560.8 591.7 L557.5 586.7 L558.3 580.0 L563.3 578.3 L562.5 573.3 L564.2 565.0 L565.8 555.8 L570.0 551.7 L576.7 550.0 L583.3 548.3 L586.7 543.3 L590.0 535.0 L591.7 526.7 L593.3 518.3 L591.7 513.3Z" fill="#FFF8C1" stroke="#FFF8C1" stroke-width="0.8" stroke-linejoin="round"/>
<path d="M868.3 150.0 L873.3 141.7 L880.0 133.3 L890.0 120.0 L895.0 108.3 L883.3 103.3 L886.7 98.3 L895.0 93.3 L911.7 91.7 L913.3 110.0 L906.7 151.7 L880.0 156.7Z" fill="#E1640E" stroke="#E1640E" stroke-width="0.8" stroke-linejoin="round"/>
<path d="M270.0 238.0 L262.5 239.5 L250.0 250.0 L246.2 262.5 L250.0 270.0 L253.8 262.5 L257.5 255.0 L267.5 245.0Z" fill="#D9D9D9" stroke="#D9D9D9" stroke-width="0.8" stroke-linejoin="round"/>
<path d="M250.0 271.2 L257.0 271.2 L257.0 278.0 L250.0 278.0Z" fill="#FFF8C1" stroke="#FFF8C1" stroke-width="0.8" stroke-linejoin="round"/>
<path d="M198.8 261.2 L211.2 262.0 L212.0 267.0 L205.0 267.5 L200.0 265.5Z" fill="#D9D9D9" stroke="#D9D9D9" stroke-width="0.8" stroke-linejoin="round"/>
<path d="M948.8 150.5 L953.8 148.8 L960.0 149.5 L960.0 154.5 L951.2 155.5Z" fill="#D9D9D9" stroke="#D9D9D9" stroke-width="0.8" stroke-linejoin="round"/>
<path d="M951.2 225.0 L953.8 220.0 L961.2 215.0 L971.2 212.5 L976.2 213.8 L975.0 225.0 L970.0 237.5 L972.5 242.5 L982.5 245.0 L985.0 251.2 L975.0 252.5 L965.0 252.5 L958.8 248.8 L953.8 242.5 L951.2 235.0Z" fill="#D9D9D9" stroke="#D9D9D9" stroke-width="0.8" stroke-linejoin="round"/>
<path d="M864.2 350.0 L868.3 346.7 L875.0 345.0 L883.3 343.3 L890.0 340.8 L895.0 341.7 L900.0 346.7 L901.7 347.5 L898.3 350.0 L895.0 354.2 L890.0 359.2 L884.2 361.7 L878.3 363.3 L875.8 358.3 L873.3 353.3 L868.3 351.7Z" fill="#FFF8C1" stroke="#FFF8C1" stroke-width="0.8" stroke-linejoin="round"/>
<path d="M856.7 356.7 L861.7 353.3 L868.3 351.7 L873.3 353.3 L875.8 358.3 L878.3 363.3 L873.3 366.7 L870.0 370.8 L867.5 375.8 L863.3 373.3 L860.0 370.0 L861.7 363.3 L858.3 360.0Z" fill="#FEAC3A" stroke="#FEAC3A" stroke-width="0.8" stroke-linejoin="round"/>
<path d="M928.3 338.3 L931.7 335.8 L936.7 332.5 L943.3 333.3 L946.7 336.7 L946.7 346.7 L943.3 348.3 L938.3 348.3 L936.7 344.2 L933.3 341.7 L930.0 342.5Z" fill="#FEAC3A" stroke="#FEAC3A" stroke-width="0.8" stroke-linejoin="round"/>
<path d="M910.8 338.3 L916.7 336.7 L921.7 336.7 L924.2 341.7 L923.3 344.2 L920.8 345.8 L920.0 350.0 L915.8 346.7 L911.7 344.2Z" fill="#D9D9D9" stroke="#D9D9D9" stroke-width="0.8" stroke-linejoin="round"/>
<path d="M978.3 315.8 L981.7 312.5 L985.0 308.3 L988.3 307.5 L993.3 309.2 L1000.0 310.0 L1001.7 311.7 L998.3 316.7 L995.0 320.8 L991.7 324.2 L993.3 328.3 L996.7 331.7 L998.3 333.3 L996.7 337.5 L991.7 341.7 L986.7 345.8 L983.3 346.7 L983.3 342.5 L981.7 337.5 L979.2 332.5 L977.5 328.3 L978.3 324.2 L975.8 320.0Z" fill="#D9D9D9" stroke="#D9D9D9" stroke-width="0.8" stroke-linejoin="round"/>
<path d="M1001.7 311.7 L1006.7 308.3 L1010.0 306.7 L1015.0 310.8 L1020.0 307.5 L1023.3 310.8 L1026.7 316.7 L1025.0 320.0 L1027.5 322.5 L1029.2 328.3 L1031.7 331.7 L1029.2 335.8 L1023.3 335.0 L1016.7 334.2 L1010.0 332.5 L1006.7 328.3 L1001.7 330.0 L998.3 333.3 L996.7 331.7 L993.3 328.3 L991.7 324.2 L995.0 320.8 L998.3 316.7Z" fill="#FECE65" stroke="#FECE65" stroke-width="0.8" stroke-linejoin="round"/>
<path d="M798.3 399.2 L806.7 398.3 L810.0 401.7 L815.0 405.0 L820.0 406.7 L816.7 411.7 L813.3 415.0 L808.3 418.3 L805.0 421.7 L800.0 416.7 L797.5 413.3 L798.3 406.7Z" fill="#E1640E" stroke="#E1640E" stroke-width="0.8" stroke-linejoin="round"/>
<path d="M818.3 438.3 L820.0 445.0 L823.3 440.8 L828.3 440.0 L833.3 438.3 L838.3 442.5 L840.0 446.7 L836.7 451.7 L830.0 453.3 L823.3 451.7 L818.3 448.3Z" fill="#FEAC3A" stroke="#FEAC3A" stroke-width="0.8" stroke-linejoin="round"/>
<path d="M825.0 463.3 L830.0 460.0 L836.7 460.8 L841.7 465.0 L840.0 470.0 L833.3 471.7 L828.3 470.0Z" fill="#FFF8C1" stroke="#FFF8C1" stroke-width="0.8" stroke-linejoin="round"/>
<path d="M755.8 400.8 L758.3 396.7 L763.3 395.0 L766.7 395.0 L771.7 403.3 L774.2 409.2 L770.0 411.7 L766.7 412.5 L763.3 410.0 L761.7 405.0 L757.5 404.2Z" fill="#C14702" stroke="#C14702" stroke-width="0.8" stroke-linejoin="round"/>
<path d="M740.0 461.7 L745.0 461.7 L750.0 462.5 L750.8 465.0 L746.7 467.5 L742.5 466.7 L740.0 465.0Z" fill="#C14702" stroke="#C14702" stroke-width="0.8" stroke-linejoin="round"/>
<path d="M476.0 375.0 L480.0 370.0 L486.0 370.0 L495.0 371.0 L500.0 376.0 L503.3 370.0 L506.7 367.5 L513.3 366.7 L518.3 365.8 L525.0 370.0 L530.0 375.0 L536.7 376.7 L537.5 383.3 L545.0 385.0 L550.0 390.8 L556.7 383.3 L565.8 380.0 L573.3 380.8 L581.7 380.0 L586.7 376.7 L595.0 375.8 L598.3 383.3 L593.3 390.0 L586.7 396.7 L583.3 403.3 L585.0 408.3 L590.0 413.3 L588.3 418.3 L586.7 426.7 L583.3 426.7 L575.0 426.7 L571.7 429.2 L568.3 425.0 L570.0 420.0 L563.3 415.0 L558.3 410.0 L551.7 408.3 L545.0 406.7 L540.0 403.3 L533.3 396.7 L526.7 400.0 L521.7 395.0 L516.7 391.7 L510.0 386.7 L503.3 381.7 L497.5 385.0 L490.0 387.5 L482.5 386.0 L476.0 380.0Z" fill="#C14702" stroke="#C14702" stroke-width="0.8" stroke-linejoin="round"/>
<path d="M700.0 510.0 L704.2 509.2 L706.7 512.5 L704.2 515.8 L700.0 515.3Z" fill="#D9D9D9" stroke="#D9D9D9" stroke-width="0.8" stroke-linejoin="round"/>
<path d="M765.0 497.5 L766.7 493.3 L770.0 488.3 L774.2 487.5 L775.8 492.5 L778.3 496.7 L773.3 495.8 L768.3 497.5Z" fill="#E1640E" stroke="#E1640E" stroke-width="0.8" stroke-linejoin="round"/>
<path d="M818.3 511.7 L823.3 508.3 L829.2 510.8 L831.7 516.7 L829.2 523.3 L825.0 528.3 L820.8 525.0 L819.2 518.3Z" fill="#FFFFE5" stroke="#FFFFE5" stroke-width="0.8" stroke-linejoin="round"/>
<path d="M819.2 490.0 L823.3 485.8 L826.7 487.5 L825.8 496.7 L822.5 498.3 L820.0 495.0Z" fill="#D9D9D9" stroke="#D9D9D9" stroke-width="0.8" stroke-linejoin="round"/>
<path d="M844.2 530.8 L848.3 530.0 L851.7 528.3 L855.0 531.7 L860.8 535.0 L861.7 540.0 L855.0 540.0 L850.0 536.7 L846.7 539.2 L844.2 535.0Z" fill="#E1640E" stroke="#E1640E" stroke-width="0.8" stroke-linejoin="round"/>
<path d="M740.0 611.7 L746.7 608.3 L753.3 608.3 L757.5 611.7 L756.7 618.3 L753.3 621.7 L748.3 620.8 L743.3 620.0 L738.3 616.7Z" fill="#FEE79B" stroke="#FEE79B" stroke-width="0.8" stroke-linejoin="round"/>
<path d="M757.5 611.7 L760.0 611.7 L766.7 616.7 L770.0 621.7 L771.7 630.0 L773.3 640.0 L775.0 646.7 L773.3 653.3 L770.0 653.3 L766.7 646.7 L763.3 640.0 L760.0 633.3 L758.3 626.7 L756.7 621.7 L756.7 618.3Z" fill="#D9D9D9" stroke="#D9D9D9" stroke-width="0.8" stroke-linejoin="round"/>
<path d="M750.0 553.3 L755.0 550.8 L761.7 550.0 L764.2 554.2 L762.5 558.3 L756.7 560.0 L751.7 558.3Z" fill="#FFF8C1" stroke="#FFF8C1" stroke-width="0.8" stroke-linejoin="round"/>
<path d="M820.0 638.3 L823.3 631.7 L826.7 628.3 L833.3 628.3 L838.3 631.7 L841.7 636.7 L846.7 640.0 L851.7 643.3 L856.7 646.7 L855.0 651.7 L850.0 655.0 L846.7 653.3 L841.7 656.7 L838.3 661.7 L836.7 661.7 L831.7 656.7 L826.7 653.3 L820.0 650.0 L816.7 646.7Z" fill="#D9D9D9" stroke="#D9D9D9" stroke-width="0.8" stroke-linejoin="round"/>
<path d="M855.0 651.7 L856.7 646.7 L860.0 638.3 L866.7 640.0 L875.0 638.3 L879.2 645.0 L875.0 650.0 L876.7 656.7 L873.3 661.7 L866.7 660.0 L861.7 656.7 L856.7 656.7Z" fill="#FEE79B" stroke="#FEE79B" stroke-width="0.8" stroke-linejoin="round"/>
<path d="M838.3 668.3 L838.3 661.7 L841.7 656.7 L846.7 653.3 L850.0 655.0 L855.0 651.7 L856.7 656.7 L861.7 656.7 L866.7 660.0 L873.3 661.7 L866.7 666.7 L863.3 670.0 L860.0 675.0 L856.7 681.7 L850.0 681.7 L846.7 676.7 L841.7 678.3 L838.3 675.0Z" fill="#F68720" stroke="#F68720" stroke-width="0.8" stroke-linejoin="round"/>
<path d="M848.8 485.0 L853.8 482.5 L858.8 480.0 L862.5 478.8 L866.2 480.0 L865.0 486.2 L861.2 492.5 L857.5 498.8 L853.8 502.5 L848.8 502.5Z" fill="#FEE79B" stroke="#FEE79B" stroke-width="0.8" stroke-linejoin="round"/>
<path d="M866.2 505.0 L865.0 500.0 L870.0 498.8 L875.0 502.5 L876.2 507.5 L878.8 512.5 L877.5 517.5 L872.5 521.2 L867.5 522.5 L865.0 520.0 L867.5 515.0 L870.0 510.0Z" fill="#FECE65" stroke="#FECE65" stroke-width="0.8" stroke-linejoin="round"/>
<path d="M848.8 542.5 L855.0 540.0 L860.0 541.2 L865.0 541.2 L868.8 542.5 L872.5 545.0 L875.0 546.2 L873.8 551.2 L870.0 555.0 L868.8 560.0 L863.8 562.5 L860.0 566.2 L856.2 570.0 L852.5 566.2 L848.8 561.2Z" fill="#D9D9D9" stroke="#D9D9D9" stroke-width="0.8" stroke-linejoin="round"/>
<path d="M759.2 717.5 L765.0 715.8 L770.0 718.3 L776.7 716.7 L783.3 717.5 L781.7 721.7 L778.3 725.0 L775.0 726.7 L771.7 725.8 L766.7 726.7 L763.3 724.2 L760.0 721.7Z" fill="#FFF8C1" stroke="#FFF8C1" stroke-width="0.8" stroke-linejoin="round"/>
<path d="M745.0 658.3 L773.3 658.3 L772.5 663.3 L770.0 661.7 L766.7 663.3 L760.0 663.3 L756.7 665.0 L755.8 671.7 L751.7 669.2 L748.3 666.7 L745.0 665.0Z" fill="#F68720" stroke="#F68720" stroke-width="0.8" stroke-linejoin="round"/>
<path d="M575.0 622.7 L580.2 619.6 L585.4 611.2 L586.5 606.0 L591.7 602.9 L592.7 597.7 L600.0 596.7 L602.1 602.9 L603.1 611.2 L608.3 612.3 L612.5 609.2 L616.7 608.1 L617.7 615.4 L615.6 620.6 L610.4 622.7 L604.2 620.6 L599.0 622.7 L594.8 621.7 L591.7 624.8 L588.5 629.0 L583.3 632.1 L579.2 637.3 L576.0 632.1Z" fill="#F68720" stroke="#F68720" stroke-width="0.8" stroke-linejoin="round"/>
<path d="M476.2 490.0 L480.0 485.0 L485.0 482.5 L493.8 485.0 L497.5 491.2 L501.2 497.5 L502.5 503.8 L507.5 507.5 L515.0 510.0 L520.0 507.5 L525.0 513.8 L531.2 515.0 L533.8 520.0 L537.5 527.5 L540.0 535.0 L547.5 540.0 L555.0 542.5 L561.2 547.5 L562.5 555.0 L566.2 556.2 L565.0 565.0 L562.5 572.5 L563.8 578.8 L558.8 582.5 L557.5 590.0 L555.0 597.5 L551.2 601.2 L547.5 596.2 L543.8 590.0 L540.0 586.2 L535.0 590.0 L531.2 595.0 L530.0 605.0 L526.2 608.8 L523.8 605.0 L520.0 598.8 L516.2 595.0 L512.5 605.0 L508.8 600.0 L506.2 590.0 L505.0 575.0 L503.8 560.0 L501.2 550.0 L497.5 542.5 L500.0 537.5 L495.0 530.0 L490.0 522.5 L483.8 518.8 L476.2 510.0 L478.8 502.5 L476.2 495.0Z" fill="#C14702" stroke="#C14702" stroke-width="0.8" stroke-linejoin="round"/>
<path d="M575.0 575.0 L580.0 567.5 L590.0 562.5 L602.5 561.2 L602.5 580.0 L590.0 582.5 L580.0 581.2Z" fill="#FFFFE5" stroke="#FFFFE5" stroke-width="0.8" stroke-linejoin="round"/>
<path d="M590.0 458.3 L621.7 458.3 L620.8 465.0 L616.7 467.5 L608.3 468.3 L605.8 473.3 L608.3 478.3 L607.5 481.7 L601.7 480.0 L598.3 482.5 L593.3 481.7 L590.0 479.2 L591.7 473.3 L594.2 470.0 L591.7 465.0Z" fill="#933204" stroke="#933204" stroke-width="0.8" stroke-linejoin="round"/>
<path d="M710.0 540.0 L713.3 536.7 L718.3 533.3 L721.7 533.3 L721.7 566.7 L715.0 566.7 L710.0 568.3 L707.5 563.3 L710.0 556.7 L709.2 546.7Z" fill="#C14702" stroke="#C14702" stroke-width="0.8" stroke-linejoin="round"/>
<path d="M606.7 515.0 L613.3 514.2 L620.0 512.5 L626.7 513.3 L635.0 515.8 L641.7 516.7 L642.5 521.7 L638.3 526.7 L636.7 531.7 L630.0 533.3 L625.0 533.3 L620.0 536.7 L616.7 531.7 L617.5 523.3 L613.3 520.0Z" fill="#FFFFE5" stroke="#FFFFE5" stroke-width="0.8" stroke-linejoin="round"/>
<path d="M642.5 515.0 L648.3 513.3 L655.0 516.7 L661.7 520.0 L660.0 525.0 L656.7 530.0 L655.0 536.7 L650.0 538.3 L646.7 541.7 L643.3 538.3 L638.3 533.3 L636.7 531.7 L638.3 526.7 L642.5 521.7Z" fill="#D9D9D9" stroke="#D9D9D9" stroke-width="0.8" stroke-linejoin="round"/>
<path d="M615.0 550.0 L618.3 545.8 L623.3 546.7 L626.7 551.7 L627.5 558.3 L626.7 560.8 L621.7 562.5 L616.7 560.8 L613.3 556.7Z" fill="#D9D9D9" stroke="#D9D9D9" stroke-width="0.8" stroke-linejoin="round"/>
<path d="M573.3 576.7 L578.3 571.7 L585.0 566.7 L590.0 561.7 L595.0 561.7 L600.0 565.0 L603.3 570.0 L601.7 573.3 L595.0 571.7 L590.0 573.3 L585.0 575.0 L580.0 578.3 L575.0 580.8Z" fill="#FFFFE5" stroke="#FFFFE5" stroke-width="0.8" stroke-linejoin="round"/>
<path d="M601.7 573.3 L603.3 570.0 L610.0 568.3 L616.7 570.0 L620.0 575.0 L618.3 576.7 L615.0 580.0 L610.0 580.8 L605.0 578.3Z" fill="#D9D9D9" stroke="#D9D9D9" stroke-width="0.8" stroke-linejoin="round"/>
<path d="M595.0 588.3 L600.0 585.0 L606.7 584.2 L613.3 586.7 L616.7 591.7 L618.3 598.3 L617.5 605.0 L613.3 608.3 L606.7 610.0 L603.3 608.3 L601.7 603.3 L601.7 596.7 L600.0 591.7Z" fill="#D9D9D9" stroke="#D9D9D9" stroke-width="0.8" stroke-linejoin="round"/>
<path d="M673.3 525.0 L680.0 526.7 L686.7 530.0 L693.3 533.3 L696.7 533.3 L702.5 533.3 L705.0 540.0 L704.2 548.3 L700.0 551.7 L693.3 555.0 L686.7 555.8 L680.0 556.7 L675.0 558.3 L670.0 560.0 L667.5 566.7 L666.7 573.3 L663.3 576.7 L666.7 583.3 L663.3 586.7 L658.3 585.0 L653.3 588.3 L648.3 591.7 L643.3 593.3 L638.3 591.7 L636.7 586.7 L635.0 580.0 L636.7 573.3 L640.0 570.0 L646.7 568.3 L651.7 565.0 L655.0 558.3 L658.3 553.3 L663.3 550.0 L666.7 543.3 L670.0 538.3 L675.8 533.3Z" fill="#FFFFE5" stroke="#FFFFE5" stroke-width="0.8" stroke-linejoin="round"/>
<path d="M624.2 566.7 L626.7 560.8 L630.0 560.0 L635.0 561.7 L640.0 563.3 L643.3 566.7 L646.7 568.3 L640.0 570.0 L636.7 573.3 L635.0 580.0 L636.7 586.7 L638.3 591.7 L635.0 591.7 L628.3 590.0 L625.0 585.0 L621.7 580.0 L618.3 576.7 L621.7 571.7Z" fill="#D9D9D9" stroke="#D9D9D9" stroke-width="0.8" stroke-linejoin="round"/>
<path d="M1109.3 202.0 L1116.0 198.7 L1128.0 195.3 L1140.0 192.7 L1146.7 193.3 L1144.7 196.7 L1141.3 203.3 L1138.7 208.7 L1128.0 210.0 L1120.0 215.3 L1117.3 223.3 L1112.0 225.3 L1104.0 223.3 L1101.3 222.0 L1093.3 220.7 L1086.7 221.3 L1077.3 222.7 L1073.3 224.7 L1074.7 230.0 L1080.0 235.3 L1086.7 238.0 L1092.0 239.3 L1094.7 244.7 L1090.7 246.0 L1085.3 242.0 L1080.0 240.7 L1074.7 239.3 L1066.7 239.3 L1062.7 234.0 L1058.7 230.0 L1053.3 224.7 L1056.0 219.3 L1060.0 216.7 L1064.0 218.0 L1069.3 218.7 L1074.7 216.0 L1082.7 216.7 L1090.7 216.0 L1098.7 214.0 L1104.0 210.0 L1108.0 206.0Z" fill="#C14702" stroke="#C14702" stroke-width="0.8" stroke-linejoin="round"/>
<path d="M1069.3 255.3 L1074.7 250.0 L1082.7 248.7 L1086.7 244.7 L1090.7 246.0 L1096.0 244.7 L1102.7 240.7 L1109.3 238.0 L1116.0 235.3 L1120.0 230.0 L1125.3 230.0 L1132.0 231.3 L1130.7 236.7 L1125.3 244.7 L1122.7 250.0 L1117.3 254.0 L1116.0 261.3 L1109.3 260.0 L1102.7 258.7 L1096.0 256.7 L1092.0 259.3 L1086.7 262.0 L1080.0 263.3 L1074.7 262.0 L1070.7 259.3Z" fill="#C14702" stroke="#C14702" stroke-width="0.8" stroke-linejoin="round"/>
<path d="M708.3 475.0 L716.7 473.3 L725.0 471.7 L733.3 469.2 L738.3 466.7 L740.0 468.3 L736.7 473.3 L730.0 476.7 L723.3 480.0 L720.0 486.7 L715.0 485.0 L711.7 480.0Z" fill="#FFF8C1" stroke="#FFF8C1" stroke-width="0.8" stroke-linejoin="round"/>
<path d="M723.3 480.0 L730.0 476.7 L736.7 473.3 L740.0 468.3 L743.3 470.0 L750.0 471.7 L753.3 475.0 L750.0 478.3 L748.3 483.3 L743.3 491.7 L750.0 495.0 L758.3 496.7 L763.3 500.0 L760.0 505.0 L758.3 511.7 L760.0 516.7 L755.0 520.0 L745.0 520.8 L738.3 518.3 L731.7 515.0 L726.7 508.3 L721.7 501.7 L720.8 493.3 L725.0 486.7Z" fill="#FEAC3A" stroke="#FEAC3A" stroke-width="0.8" stroke-linejoin="round"/>
<path d="M753.3 475.0 L756.7 470.0 L763.3 471.7 L768.3 468.3 L773.3 469.2 L778.3 470.8 L776.7 476.7 L773.3 480.0 L766.7 480.8 L760.0 480.0 L755.0 480.0 L750.0 478.3Z" fill="#FECE65" stroke="#FECE65" stroke-width="0.8" stroke-linejoin="round"/>
<path d="M778.3 470.8 L783.3 469.2 L790.0 470.0 L795.0 471.7 L800.0 473.3 L803.3 478.3 L800.0 481.7 L793.3 483.3 L786.7 481.7 L780.0 480.0 L776.7 476.7Z" fill="#FEAC3A" stroke="#FEAC3A" stroke-width="0.8" stroke-linejoin="round"/>
<path d="M748.3 483.3 L755.0 480.0 L766.7 480.8 L773.3 480.0 L780.0 480.0 L786.7 481.7 L793.3 483.3 L800.0 481.7 L806.7 485.0 L813.3 486.7 L820.0 488.3 L816.7 491.7 L810.0 493.3 L803.3 496.7 L801.7 503.3 L798.3 501.7 L793.3 496.7 L786.7 493.3 L780.0 486.7 L775.0 485.0 L766.7 486.7 L760.0 485.0 L755.0 486.7 L750.0 485.0Z" fill="#FEE79B" stroke="#FEE79B" stroke-width="0.8" stroke-linejoin="round"/>
<path d="M790.0 465.0 L793.3 460.0 L798.3 455.0 L803.3 450.0 L810.0 445.0 L816.7 443.3 L823.3 440.0 L830.0 441.7 L836.7 440.0 L843.3 445.0 L850.0 446.7 L856.7 445.0 L860.0 450.0 L858.3 456.7 L861.7 463.3 L866.7 466.7 L860.0 468.3 L856.7 473.3 L850.0 478.3 L845.0 475.0 L841.7 474.2 L835.0 475.8 L831.7 475.0 L828.3 470.0 L823.3 468.3 L818.3 469.2 L816.7 473.3 L813.3 475.0 L806.7 474.2 L800.0 473.3 L795.0 471.7Z" fill="#FECE65" stroke="#FECE65" stroke-width="0.8" stroke-linejoin="round"/>
<path d="M816.7 473.3 L818.3 476.7 L821.7 481.7 L826.7 486.7 L831.7 481.7 L836.7 480.0 L841.7 481.7 L846.7 485.0 L845.0 488.3 L848.3 493.3 L846.7 500.0 L850.0 505.0 L853.3 508.3 L850.0 513.3 L846.7 518.3 L841.7 523.3 L833.3 526.7 L826.7 530.0 L823.3 523.3 L821.7 516.7 L824.2 510.0 L823.3 503.3 L820.0 496.7 L816.7 491.7 L820.0 488.3 L813.3 486.7 L815.0 480.0Z" fill="#FFF8C1" stroke="#FFF8C1" stroke-width="0.8" stroke-linejoin="round"/>
<path d="M748.3 463.3 L755.0 460.8 L766.7 461.7 L778.3 463.3 L780.0 468.3 L773.3 470.0 L768.3 468.7 L763.3 472.0 L756.7 470.3 L751.7 470.0Z" fill="#FFFFE5" stroke="#FFFFE5" stroke-width="0.8" stroke-linejoin="round"/>
<path d="M778.3 463.3 L790.0 464.2 L795.0 471.7 L790.0 470.3 L783.3 469.5 L778.3 471.2Z" fill="#FECE65" stroke="#FECE65" stroke-width="0.8" stroke-linejoin="round"/>
<path d="M800.0 473.3 L806.7 474.2 L813.3 475.0 L816.7 473.3 L815.0 480.0 L813.3 486.7 L820.0 488.3 L816.7 491.7 L810.0 493.3 L803.3 496.7 L800.0 481.7 L803.3 478.3Z" fill="#FEE79B" stroke="#FEE79B" stroke-width="0.8" stroke-linejoin="round"/>
<path d="M497.5 373.8 L500.0 370.0 L505.0 367.5 L508.8 375.0 L509.5 380.0 L503.0 376.2Z" fill="#F68720" stroke="#F68720" stroke-width="0.8" stroke-linejoin="round"/>
<path d="M486.2 365.0 L495.5 365.0 L495.0 370.0 L486.2 370.5Z" fill="#662506" stroke="#662506" stroke-width="0.8" stroke-linejoin="round"/>
<path d="M628.3 391.7 L631.7 388.3 L638.3 390.0 L641.7 393.3 L640.8 399.2 L643.3 401.7 L645.8 408.3 L643.3 411.7 L638.3 410.8 L635.8 405.0 L631.7 400.0 L628.3 396.7Z" fill="#933204" stroke="#933204" stroke-width="0.8" stroke-linejoin="round"/>
<path d="M548.3 396.7 L550.0 392.5 L556.7 390.0 L560.0 386.7 L566.7 383.3 L566.7 388.3 L571.7 390.0 L570.0 396.7 L563.3 401.7 L556.7 403.3 L546.7 401.7Z" fill="#D9D9D9" stroke="#D9D9D9" stroke-width="0.8" stroke-linejoin="round"/>
<path d="M758.3 633.3 L761.7 638.3 L763.3 645.0 L768.3 648.3 L773.3 646.7 L778.3 646.7 L775.0 650.0 L773.3 653.3 L773.3 661.7 L766.7 663.3 L761.7 661.7 L756.7 663.3 L754.2 668.3 L753.3 671.7 L750.0 666.7 L746.7 663.3 L742.5 656.7 L744.2 650.0 L743.3 646.7 L750.0 646.7 L756.7 646.7 L758.3 640.0Z" fill="#F68720" stroke="#F68720" stroke-width="0.8" stroke-linejoin="round"/>
<path d="M857.5 517.5 L856.2 515.0 L858.8 512.5 L862.5 508.8 L866.2 510.0 L868.1 513.8 L865.0 517.5 L860.0 516.2Z" fill="#FFF8C1" stroke="#FFF8C1" stroke-width="0.8" stroke-linejoin="round"/>
<path d="M636.7 573.3 L640.0 570.0 L646.7 568.3 L648.3 575.0 L645.0 581.7 L640.0 585.0 L636.7 583.3 L635.0 580.0Z" fill="#FFF8C1" stroke="#FFF8C1" stroke-width="0.8" stroke-linejoin="round"/>
<path d="M667.5 566.7 L670.0 560.0 L675.0 558.3 L676.7 563.3 L675.0 570.0 L680.0 576.7 L685.0 583.3 L687.5 590.0 L688.3 598.3 L686.7 605.0 L681.7 603.3 L678.3 598.3 L673.3 593.3 L670.8 588.3 L666.7 583.3 L663.3 576.7 L666.7 573.3Z" fill="#FFF8C1" stroke="#FFF8C1" stroke-width="0.8" stroke-linejoin="round"/>
<path d="M1074.7 224.7 L1077.3 222.7 L1086.7 221.3 L1093.3 220.7 L1101.3 222.0 L1104.0 223.3 L1112.0 225.3 L1117.3 223.3 L1120.0 215.3 L1128.0 210.0 L1138.7 208.7 L1141.3 203.3 L1143.3 203.3 L1146.7 206.7 L1144.0 210.0 L1137.3 214.0 L1134.7 223.3 L1132.0 231.3 L1125.3 230.0 L1120.0 230.0 L1116.0 235.3 L1109.3 238.0 L1102.7 240.7 L1096.0 244.7 L1094.7 244.7 L1092.0 239.3 L1086.7 238.0 L1080.0 235.3 L1074.7 230.0Z" fill="#FEAC3A" stroke="#FEAC3A" stroke-width="0.8" stroke-linejoin="round"/>
<path d="M743.3 491.7 L748.3 483.3 L750.0 485.0 L755.0 486.7 L760.0 485.0 L763.3 491.7 L761.7 496.7 L758.3 496.7 L750.0 495.0Z" fill="#FFFFE5" stroke="#FFFFE5" stroke-width="0.8" stroke-linejoin="round"/>
<path d="M825.0 463.3 L830.0 460.0 L836.7 460.8 L841.7 465.0 L840.0 470.0 L833.3 471.7 L828.3 470.0Z" fill="#FFF8C1" stroke="#FFF8C1" stroke-width="0.8" stroke-linejoin="round"/>
<path d="M818.3 438.3 L820.0 445.0 L823.3 440.8 L828.3 440.0 L833.3 438.3 L838.3 442.5 L840.0 446.7 L836.7 451.7 L830.0 453.3 L823.3 451.7 L818.3 448.3Z" fill="#FEAC3A" stroke="#FEAC3A" stroke-width="0.8" stroke-linejoin="round"/>
<path d="M818.0 469.3 L822.7 468.0 L826.7 470.7 L829.3 476.0 L833.3 475.3 L838.7 477.3 L844.0 474.0 L849.3 478.7 L854.7 473.3 L860.0 470.7 L862.7 476.0 L860.0 478.7 L854.7 481.3 L849.3 485.3 L845.3 486.7 L846.7 490.7 L841.3 489.3 L837.3 485.3 L832.0 484.0 L828.0 481.3 L824.0 477.3 L818.7 474.7Z" fill="#F68720" stroke="#F68720" stroke-width="0.8" stroke-linejoin="round"/>
<path d="M860.0 450.0 L866.7 446.7 L873.3 448.3 L876.7 453.3 L875.0 460.0 L871.7 466.7 L868.3 468.3 L866.7 466.7 L861.7 463.3 L858.3 456.7Z" fill="#FEAC3A" stroke="#FEAC3A" stroke-width="0.8" stroke-linejoin="round"/>
<path d="M846.7 485.0 L853.3 483.3 L856.7 480.0 L863.3 480.0 L868.3 483.3 L873.3 486.7 L873.3 493.3 L868.3 496.7 L863.3 500.0 L858.3 503.3 L853.3 508.3 L850.0 505.0 L846.7 500.0 L848.3 493.3 L845.0 488.3Z" fill="#FEE79B" stroke="#FEE79B" stroke-width="0.8" stroke-linejoin="round"/>
<path d="M819.2 490.0 L823.3 485.8 L826.7 487.5 L825.8 496.7 L822.5 500.0 L820.0 495.0Z" fill="#D9D9D9" stroke="#D9D9D9" stroke-width="0.8" stroke-linejoin="round"/>
<path d="M803.3 486.7 L806.7 485.8 L811.7 488.3 L816.7 492.5 L820.0 496.7 L824.2 500.0 L822.5 506.7 L816.7 507.5 L811.7 506.7 L808.3 501.7 L805.0 496.7 L802.5 491.7Z" fill="#F68720" stroke="#F68720" stroke-width="0.8" stroke-linejoin="round"/>
<path d="M798.3 568.3 L821.7 568.3 L825.0 576.7 L831.7 575.0 L835.0 580.0 L836.7 586.7 L833.3 591.7 L828.3 590.0 L821.7 585.0 L816.7 588.3 L810.0 588.3 L805.0 590.0 L798.3 591.7Z" fill="#D9D9D9" stroke="#D9D9D9" stroke-width="0.8" stroke-linejoin="round"/>
<path d="M798.3 590.8 L803.3 591.7 L810.0 588.3 L816.7 588.3 L821.7 585.0 L820.0 578.3 L825.0 576.7 L831.7 575.0 L835.0 580.0 L836.7 586.7 L838.3 580.0 L848.3 581.7 L853.3 591.7 L855.0 603.3 L850.0 608.3 L841.7 610.0 L835.0 611.7 L835.8 606.7 L831.7 598.3 L825.0 600.0 L820.0 603.3 L811.7 606.7 L810.8 601.7 L806.7 598.3 L798.3 598.3Z" fill="#FFFFE5" stroke="#FFFFE5" stroke-width="0.8" stroke-linejoin="round"/>
<path d="M798.3 610.0 L805.8 614.2 L810.8 610.0 L811.7 606.7 L820.0 603.3 L825.0 600.0 L831.7 598.3 L835.8 606.7 L835.0 611.7 L830.0 616.7 L830.8 623.3 L825.0 628.3 L820.0 635.0 L820.8 641.7 L816.7 648.3 L813.3 653.3 L810.0 663.3 L808.3 671.7 L806.7 676.7 L798.3 675.0Z" fill="#D9D9D9" stroke="#D9D9D9" stroke-width="0.8" stroke-linejoin="round"/>
<path d="M848.3 581.7 L853.3 580.0 L858.3 584.2 L865.0 583.3 L873.3 581.7 L880.0 576.7 L886.7 568.3 L916.7 568.3 L915.0 575.0 L918.3 580.0 L916.7 586.7 L913.3 588.3 L910.0 585.0 L903.3 582.5 L898.3 584.2 L895.0 588.3 L893.3 593.3 L888.3 595.0 L888.3 600.0 L883.3 610.0 L878.3 611.7 L876.7 618.3 L873.3 618.3 L862.5 620.0 L859.2 605.8 L854.2 604.2 L855.0 603.3 L853.3 591.7Z" fill="#FFFFE5" stroke="#FFFFE5" stroke-width="0.8" stroke-linejoin="round"/>
<path d="M835.0 611.7 L841.7 610.0 L850.0 608.3 L855.0 603.3 L859.2 605.8 L862.5 620.0 L873.3 618.3 L878.3 623.3 L885.0 623.3 L890.0 626.7 L886.7 630.0 L883.3 634.2 L880.0 636.7 L875.0 638.3 L870.0 638.3 L863.3 639.2 L856.7 643.3 L850.0 641.7 L845.0 636.7 L840.0 633.3 L836.7 628.3 L830.8 623.3 L830.0 616.7Z" fill="#FFFFE5" stroke="#FFFFE5" stroke-width="0.8" stroke-linejoin="round"/>
<path d="M820.0 635.0 L825.0 628.3 L830.8 623.3 L836.7 628.3 L840.0 633.3 L845.0 636.7 L850.0 641.7 L856.7 643.3 L855.0 648.3 L851.7 651.7 L846.7 653.3 L843.3 658.3 L838.3 656.7 L833.3 655.0 L830.0 658.3 L826.7 653.3 L821.7 650.0 L816.7 648.3 L820.8 641.7Z" fill="#D9D9D9" stroke="#D9D9D9" stroke-width="0.8" stroke-linejoin="round"/>
<path d="M856.7 643.3 L863.3 639.2 L870.0 638.3 L875.0 638.3 L880.0 640.8 L878.3 645.0 L875.8 650.0 L875.0 655.0 L873.3 658.3 L866.7 660.0 L865.0 656.7 L858.3 655.0 L855.0 656.7 L851.7 651.7 L855.0 648.3Z" fill="#FEE79B" stroke="#FEE79B" stroke-width="0.8" stroke-linejoin="round"/>
<path d="M843.3 658.3 L846.7 653.3 L851.7 651.7 L855.0 656.7 L855.8 662.5 L860.0 665.0 L865.0 668.3 L861.7 673.3 L856.7 678.3 L853.3 676.7 L851.7 673.3 L846.7 672.5 L841.7 673.3 L839.2 670.0 L841.7 666.7 L838.3 665.0Z" fill="#F68720" stroke="#F68720" stroke-width="0.8" stroke-linejoin="round"/>
<path d="M866.7 660.0 L873.3 658.3 L875.0 655.0 L878.3 658.3 L875.0 662.5 L870.0 663.3 L865.0 668.3 L860.0 665.0 L865.0 663.3Z" fill="#FEE79B" stroke="#FEE79B" stroke-width="0.8" stroke-linejoin="round"/>
<path d="M810.0 663.3 L813.3 653.3 L816.7 648.3 L821.7 650.0 L826.7 653.3 L830.0 658.3 L833.3 655.0 L838.3 656.7 L843.3 658.3 L838.3 665.0 L841.7 666.7 L839.2 670.0 L835.0 670.0 L830.0 673.3 L826.7 678.3 L823.3 676.7 L818.3 673.3 L815.0 675.0 L810.0 673.3 L808.3 671.7Z" fill="#FFFFE5" stroke="#FFFFE5" stroke-width="0.8" stroke-linejoin="round"/>
<path d="M826.7 678.3 L830.0 673.3 L835.0 670.0 L839.2 670.0 L841.7 673.3 L845.0 675.0 L846.7 680.0 L851.7 680.8 L846.7 685.0 L843.3 690.0 L838.3 695.0 L833.3 700.0 L830.0 698.3 L827.5 693.3 L826.7 686.7Z" fill="#D9D9D9" stroke="#D9D9D9" stroke-width="0.8" stroke-linejoin="round"/>
<path d="M798.3 675.0 L806.7 676.7 L808.3 671.7 L810.0 673.3 L815.0 675.0 L818.3 673.3 L823.3 676.7 L826.7 678.3 L826.7 686.7 L827.5 693.3 L830.0 698.3 L828.3 702.5 L823.3 706.7 L818.3 711.7 L815.0 710.0 L810.0 706.7 L805.0 701.7 L798.3 700.0Z" fill="#FFF8C1" stroke="#FFF8C1" stroke-width="0.8" stroke-linejoin="round"/>
<path d="M813.3 474.7 L818.7 474.3 L824.0 477.7 L826.7 482.7 L826.0 486.3 L822.7 486.7 L818.7 490.7 L814.7 486.7 L813.3 480.0Z" fill="#FFF8C1" stroke="#FFF8C1" stroke-width="0.8" stroke-linejoin="round"/>
<path d="M798.3 590.0 L801.7 595.0 L806.7 601.7 L811.7 605.0 L810.8 610.0 L805.8 614.2 L798.3 610.0Z" fill="#E1640E" stroke="#E1640E" stroke-width="0.8" stroke-linejoin="round"/>
<path d="M831.7 568.3 L861.7 568.3 L856.7 575.0 L853.3 580.0 L848.3 581.7 L838.3 578.3 L835.0 573.3Z" fill="#FEE79B" stroke="#FEE79B" stroke-width="0.8" stroke-linejoin="round"/>
<path d="M861.7 568.3 L886.7 568.3 L880.0 576.7 L873.3 581.7 L865.0 583.3 L858.3 584.2 L853.3 580.0 L856.7 575.0Z" fill="#FECE65" stroke="#FECE65" stroke-width="0.8" stroke-linejoin="round"/>
<path d="M900.0 568.3 L916.7 568.3 L915.0 575.0 L918.3 580.0 L916.7 586.7 L913.3 588.3 L910.0 585.0 L903.3 582.5 L901.7 576.7Z" fill="#FFF8C1" stroke="#FFF8C1" stroke-width="0.8" stroke-linejoin="round"/>
<path d="M895.0 588.3 L898.3 584.2 L903.3 582.5 L910.0 585.0 L913.3 588.3 L911.7 593.3 L910.8 600.0 L906.7 605.0 L903.3 609.2 L901.7 603.3 L900.0 598.3 L895.0 597.5 L890.0 598.3 L888.3 595.0 L893.3 593.3Z" fill="#FECE65" stroke="#FECE65" stroke-width="0.8" stroke-linejoin="round"/>
<path d="M888.3 600.0 L890.0 598.3 L895.0 597.5 L900.0 598.3 L901.7 603.3 L903.3 609.2 L900.0 613.3 L896.7 616.7 L893.3 621.7 L890.0 626.7 L885.0 623.3 L878.3 623.3 L876.7 618.3 L878.3 611.7 L883.3 610.0Z" fill="#FEE79B" stroke="#FEE79B" stroke-width="0.8" stroke-linejoin="round"/>
<path d="M855.0 656.7 L858.3 655.0 L865.0 656.7 L866.7 660.0 L865.0 663.3 L860.0 665.0 L855.8 662.5Z" fill="#FFFFE5" stroke="#FFFFE5" stroke-width="0.8" stroke-linejoin="round"/>
<path d="M845.0 675.0 L848.3 672.5 L851.7 673.3 L853.3 676.7 L851.7 680.8 L846.7 680.0Z" fill="#FFF8C1" stroke="#FFF8C1" stroke-width="0.8" stroke-linejoin="round"/>
<path d="M820.0 690.0 L825.0 686.7 L827.5 693.3 L830.0 698.3 L825.0 701.7 L820.0 698.3Z" fill="#FEE79B" stroke="#FEE79B" stroke-width="0.8" stroke-linejoin="round"/>
<path d="M803.3 701.7 L808.3 698.3 L813.3 696.7 L818.3 698.3 L820.0 703.3 L818.3 711.7 L813.3 712.5 L808.3 708.3Z" fill="#FECE65" stroke="#FECE65" stroke-width="0.8" stroke-linejoin="round"/>
<path d="M815.0 703.3 L820.0 701.7 L823.3 705.0 L820.0 710.0 L815.8 709.2Z" fill="#FFFFE5" stroke="#FFFFE5" stroke-width="0.8" stroke-linejoin="round"/>
<path d="M457.5 306.2 L451.2 312.5 L453.0 322.5 L442.5 326.2 L436.2 331.2 L432.5 328.8 L422.5 335.0 L411.2 345.0 L411.2 351.2 L396.2 353.0 L391.2 370.0 L386.2 378.8 L386.2 383.8 L375.0 386.2 L345.0 396.2 L346.2 400.0 L352.5 400.0 L353.8 410.0 L366.2 422.5 L356.2 427.5 L357.5 435.0 L362.5 441.2 L361.2 446.2 L345.0 441.2 L332.5 445.0 L325.0 440.0 L300.0 437.5M472.5 307.5 L485.0 330.0 L479.5 335.0 L492.5 345.0 L493.8 352.5 L500.0 348.8 L507.5 348.8 L517.5 345.5 L526.2 348.8 L525.0 357.5 L526.2 371.2 L536.2 376.2 L537.5 381.2 L546.2 387.5 L550.0 391.2 L556.2 386.2 L565.0 380.0 L582.5 381.2 L587.5 376.2 L595.0 375.0 L598.8 382.5M942.5 280.0 L941.7 285.0 L945.8 289.2 L943.3 293.3 L948.3 294.2 L950.0 296.7 L956.7 300.0 L960.8 305.0 L965.0 303.3 L969.2 301.7 L970.0 306.7 L972.5 310.8 L973.3 315.8 L975.8 320.0 L978.3 324.2 L977.5 328.3 L979.2 332.5 L981.7 337.5 L983.3 342.5 L983.3 346.7M700.0 380.8 L705.0 378.3 L710.0 376.7 L716.7 377.5 L721.7 376.7 L726.7 373.3 L733.3 372.5 L738.3 366.7 L743.3 360.0 L750.0 358.3 L756.7 356.7 L766.7 355.0 L773.3 353.3 L777.5 350.0 L775.0 343.3 L770.8 341.7 L773.3 337.5 L772.5 334.2 L778.3 329.2 L781.7 323.3 L788.3 320.8 L790.8 325.0 L790.8 330.0 L796.7 330.8 L803.3 327.5 L808.3 328.3 L816.7 325.0 L825.0 321.7 L826.7 315.0 L833.3 313.3 L836.7 310.8 L843.3 311.7 L846.7 318.3 L850.0 321.7 L851.7 326.7 L849.2 330.0 L851.7 335.0 L860.0 337.5 L866.7 338.3 L868.3 335.0 L870.8 330.0 L868.3 321.7 L871.7 316.7 L876.7 319.2 L881.7 325.0 L884.2 330.0 L888.3 323.3 L893.3 320.0 L900.0 318.3M777.5 350.0 L780.0 353.3 L781.7 358.3 L775.8 361.7 L776.7 366.7 L781.7 370.0 L783.3 378.3 L778.3 381.7 L773.3 385.0 L770.0 390.0 L766.7 395.0 L771.7 403.3 L774.2 409.2 L775.8 413.3 L773.3 418.3 L771.7 425.0 L765.8 430.0 L766.7 435.0 L769.2 439.2 L766.7 440.0 L765.8 448.3 L766.7 453.3 L763.3 456.7 L756.7 460.0 L750.0 462.5M721.7 376.7 L721.7 381.7 L718.3 386.7 L720.0 393.3 L715.0 396.7 L711.7 403.3 L715.0 408.3 L716.7 413.3 L714.2 418.3 L710.8 428.3 L710.0 433.3 L710.8 440.0 L713.3 448.3 L711.7 453.3 L710.0 460.0 L707.5 468.3 L706.7 476.7 L710.0 480.0M806.7 352.5 L813.3 350.0 L816.7 345.8 L821.7 343.3 L825.0 346.7 L831.7 350.0 L833.3 353.3 L833.3 358.3 L830.0 363.3 L825.0 365.0 L824.2 370.8 L818.3 373.3 L813.3 372.5 L808.3 373.3 L803.3 370.8 L800.0 366.7 L801.7 361.7 L806.7 358.3 L806.7 352.5M825.0 365.0 L830.0 363.3 L831.7 366.7 L833.3 360.0 L836.7 361.7 L841.7 365.0 L838.3 368.3 L843.3 373.3 L845.0 378.3 L841.7 383.3 L843.3 388.3 L840.0 393.3 L835.0 394.2 L830.0 391.7 L824.2 389.2 L825.0 383.3 L824.2 376.7 L824.2 370.8M843.3 396.7 L838.3 400.0 L833.3 405.0 L828.3 408.3 L823.3 411.7 L816.7 413.3 L813.3 418.3 L808.3 421.7 L806.7 426.7 L803.3 433.3 L800.0 440.0 L800.0 445.0 L796.7 451.7 L792.5 458.3 L789.2 463.3 L793.3 465.8 L796.7 468.3 L800.0 471.7 L803.3 475.0 L816.7 474.2 L818.3 469.2 L823.3 468.3 L826.7 471.7 L831.7 476.7 L833.3 480.0M600.0 418.3 L603.3 415.8 L616.7 412.5 L625.0 410.0 L627.5 403.3 L626.7 396.7 L628.3 391.7 L631.7 388.3 L633.3 381.7 L638.3 378.3 L643.3 377.5 L646.7 383.3 L645.8 388.3 L641.7 393.3 L640.8 399.2 L643.3 401.7 L650.0 402.5 L656.7 406.7 L660.8 409.2 L656.7 411.7 L654.2 415.0 L654.2 421.7 L650.0 423.3 L643.3 423.3 L640.8 428.3 L638.3 435.0 L641.7 440.0 L646.7 443.3 L646.7 450.0 L641.7 453.3 L638.3 460.0 L633.3 456.7 L628.3 455.0 L623.3 450.0 L620.8 445.0M654.2 421.7 L660.0 428.3 L665.0 431.7 L670.0 433.3 L673.3 436.7 L678.3 438.3 L679.2 443.3 L679.2 453.3 L676.7 460.0 L668.3 460.8 L661.7 461.7 L664.2 466.7 L658.3 470.0 L651.7 468.3 L646.7 465.0 L640.0 465.8 L638.3 460.0M568.3 425.0 L571.7 429.2 L570.0 433.3 L573.3 438.3 L576.7 443.3 L572.5 450.0 L568.3 455.0 L563.3 458.3 L564.2 463.3 L560.0 468.3 L557.5 473.3 L558.3 480.0M660.8 409.2 L666.7 412.5 L673.3 411.7 L680.0 411.7 L680.8 406.7 L685.0 405.8 L683.3 403.3 L685.0 398.3 L690.0 393.3 L695.0 388.3 L700.0 383.3M571.7 429.2 L575.0 426.7 L583.3 426.7 L586.7 426.7 L593.3 430.0 L595.0 436.7 L598.3 438.3 L603.3 440.0 L603.3 445.0 L600.0 451.7 L595.0 455.0 L590.0 450.0 L585.0 447.5 L586.7 445.0M711.7 480.0 L715.0 486.7 L718.3 495.0 L720.0 501.7 L725.0 510.0 L733.3 517.5 L741.7 520.0 L755.0 520.0 L766.7 519.2 L770.0 521.7 L771.7 528.3 L778.3 530.8 L783.3 533.3 L788.3 533.3 L793.3 536.7 L798.3 537.5 L801.7 541.7 L806.7 544.2 L810.8 548.3 L808.3 550.0 L806.7 555.0 L810.0 561.7 L811.7 570.0 L806.7 573.3 L800.0 575.8 L793.3 578.3 L790.0 581.7 L783.3 583.3 L778.3 585.0 L773.3 587.5 L776.7 595.0 L778.3 600.0 L778.3 605.0 L773.3 610.0 L768.3 613.3 L766.7 618.3 L770.0 623.3 L771.7 630.0 L773.3 640.0 L775.0 646.7 L773.3 653.3 L774.2 661.7 L778.3 663.3 L786.7 663.3 L787.5 668.3 L783.3 673.3 L780.0 680.0M803.3 480.0 L802.5 486.7 L800.0 491.7 L798.3 496.7 L795.0 500.0 L790.8 505.0 L794.2 509.2 L796.7 513.3 L800.0 516.7 L806.7 517.5 L808.3 520.0 L808.3 530.0 L803.3 533.3 L798.3 537.5M846.7 496.7 L848.3 503.3 L850.0 507.5M851.7 580.0 L846.7 585.0M811.7 570.0 L815.0 571.7 L820.0 570.8 L824.2 568.3 L823.3 573.3 L826.7 575.8 L831.7 570.8 L835.0 575.0 L841.7 577.5 L846.7 585.0M700.0 645.0 L703.3 646.7 L706.7 650.8 L711.7 645.0 L718.3 643.3 L725.0 645.0 L725.8 651.7 L726.7 656.7 L725.0 663.3 L721.7 668.3 L720.0 673.3 L723.3 676.7 L726.7 671.7 L730.0 668.3 L736.7 665.0 L741.7 660.0 L742.5 656.7M700.0 573.3 L705.0 575.0 L710.0 572.5 L708.3 568.3 L716.7 567.5 L725.0 566.7 L733.3 570.0 L741.7 576.7 L750.0 578.3 L756.7 575.0 L761.7 578.3 L766.7 573.3 L768.3 580.0 L770.0 586.7 L773.3 587.5M850.0 477.5 L853.8 476.2 L856.2 472.5 L860.0 470.0 L862.5 466.2 L868.8 466.2M850.0 507.5 L852.5 510.0 L856.2 508.8 L858.8 512.5 L862.5 508.8 L866.2 510.0 L868.1 513.8 L865.0 517.5 L860.0 516.2 L857.5 517.5 L856.2 522.5 L853.8 526.2 L857.5 530.0 L861.2 535.0 L865.0 538.8 L868.8 542.5 L872.5 545.0 L875.0 546.2 L877.5 545.0 L881.2 546.2 L885.0 548.8 L888.8 550.0 L892.5 552.5 L896.2 548.8 L898.8 547.5 L900.0 543.8 L903.8 540.0 L901.2 537.5 L902.5 533.8 L905.0 530.0 L908.8 533.8 L912.5 536.2 L917.5 533.8M898.8 547.5 L900.0 550.0 L902.5 552.5 L906.2 555.6M868.8 542.5 L873.8 551.2 L870.0 555.0 L868.8 560.0 L863.8 562.5 L862.5 567.5 L861.2 573.8 L858.8 580.0M854.2 604.2 L859.2 605.8 L862.5 620.0 L873.3 618.3 L878.3 623.3 L885.0 623.3 L890.0 626.7M821.7 570.0 L825.0 576.7 L831.7 575.0 L835.0 573.3 L838.3 578.3 L848.3 581.7 L853.3 580.0 L856.7 575.0 L861.7 570.0M848.3 581.7 L853.3 591.7 L855.0 603.3 L854.2 604.2 L850.0 608.3 L841.7 610.0 L835.0 611.7 L830.0 616.7 L830.8 623.3 L825.0 628.3 L820.0 635.0 L820.8 641.7 L816.7 648.3 L813.3 653.3 L810.0 663.3 L808.3 671.7 L806.7 676.7 L800.0 675.0M806.7 676.7 L810.0 673.3 L815.0 675.0 L818.3 673.3 L823.3 676.7 L826.7 678.3 L826.7 686.7 L827.5 693.3 L830.0 698.3 L828.3 702.5M723.3 660.0 L720.8 666.7 L723.3 671.7 L728.3 676.7 L736.7 675.0 L738.3 683.3 L733.3 693.3 L727.5 701.7 L726.7 711.7 L723.3 718.3 L716.7 721.7 L713.3 728.3 L708.3 730.0 L709.2 735.0 L701.7 738.3 L699.2 743.3M723.3 671.7 L726.7 668.3 L733.3 669.2 L740.0 671.7 L743.3 668.3 L745.0 665.0 L748.3 666.7 L751.7 669.2 L755.8 671.7 L756.7 665.0 L760.0 663.3 L766.7 663.3 L770.0 661.7 L776.7 665.0 L783.3 663.3 L788.3 665.0 L785.0 670.0 L781.7 673.3 L778.3 678.3 L783.3 680.0 L788.3 678.3 L795.0 676.7 L800.0 678.3 L805.0 680.0 L808.3 674.2 L816.7 675.0 L823.3 680.0 L825.8 686.7 L826.7 693.3 L829.2 700.0 L828.3 702.5M650.0 660.0 L655.0 663.3 L660.0 666.7 L665.0 667.5 L670.0 665.0 L675.0 661.7 L678.3 660.0M490.6 607.1 L493.8 602.9 L499.0 600.8 L497.9 594.6 L500.0 589.4 L505.2 588.3 L506.2 580.0M511.5 605.0 L516.7 593.5 L519.8 595.6 L522.9 600.8 L525.0 607.1 L529.2 609.2 L533.3 611.2 L537.5 617.5 L541.7 625.8 L545.8 632.1 L550.0 636.2 L552.1 642.5 L555.2 647.7 L560.4 648.8 L564.6 645.6 L569.8 643.5 L572.9 644.6 L576.0 641.5 L576.0 632.1 L575.0 622.7 L580.2 619.6 L585.4 611.2 L586.5 606.0 L591.7 602.9 L592.7 597.7 L600.0 596.7 L602.1 602.9 L603.1 611.2 L608.3 612.3 L612.5 609.2 L616.7 608.1 L617.7 615.4 L615.6 620.6 L610.4 622.7 L604.2 620.6 L599.0 622.7 L594.8 621.7 L591.7 624.8 L589.6 630.0 L591.7 636.2 L595.8 639.4 L600.0 637.3 L604.2 638.3 L606.2 642.5 L604.2 648.8 L602.1 655.0 L604.2 661.2 L607.3 665.4 L606.2 671.7 L604.2 676.9 L605.2 682.1 L610.4 682.1 L615.6 684.2 L616.7 688.3 L622.9 689.4 L629.2 688.3 L633.3 692.5 L632.3 698.8 L627.1 700.8 L622.9 705.0 L621.9 707.1M605.2 677.9 L612.5 672.7 L618.8 671.7 L625.0 674.8 L631.2 675.8 L635.4 671.7 L641.7 667.5 L646.9 663.3 L651.0 659.2 L655.2 662.3 L660.4 665.4 L666.7 666.5 L670.8 662.3 L675.0 659.2 L679.2 660.2 L685.4 656.0 L691.7 654.0 L700.0 649.8M617.7 615.4 L625.0 614.4 L633.3 615.4 L637.5 618.5 L641.7 621.7 L645.8 623.8 L652.1 620.6 L658.3 621.7 L662.5 625.8 L666.7 624.8 L683.3 629.0M620.8 580.0 L624.0 584.2 L629.2 588.3 L635.4 592.5 L637.5 599.8 L631.2 596.7 L625.0 598.8 L627.1 604.0 L633.3 606.0 L635.4 611.2 L633.3 615.4M145.0 480.0 L160.0 477.5 L162.5 470.0 L166.2 462.5 L170.0 458.8 L180.0 460.0 L190.0 461.2 L200.0 460.0 L205.0 453.8 L215.0 452.5 L220.0 458.8 L235.0 458.8 L245.0 455.0 L255.0 451.2 L265.0 452.5 L273.8 447.5 L276.2 442.5 L295.0 438.8 L305.0 437.5 L315.0 436.2 L322.5 438.8 L330.0 440.0M300.0 438.8 L310.0 437.0 L318.8 437.5 L325.0 441.2 L332.5 445.0 L343.8 441.2 L350.0 443.8 L358.8 445.0 L362.5 442.5 L360.0 433.8 L356.2 430.0 L360.0 423.8 L366.2 422.5 L366.2 420.0M332.5 445.0 L333.8 452.5 L337.5 457.5 L333.8 463.8 L338.8 470.0 L340.0 480.0 L337.5 486.2 L342.5 492.5 L348.8 500.0 L357.5 503.8 L365.0 505.0 L375.0 508.8 L385.0 512.5 L395.0 513.8 L405.0 516.2 L415.0 517.5 L425.0 515.0 L430.0 518.8 L437.5 522.5 L440.0 528.8 L445.0 532.5 L452.5 531.2 L455.0 535.0 L457.5 530.0 L463.8 533.8 L466.2 527.5 L472.5 525.0 L476.2 517.5 L476.2 510.0 L483.8 518.8 L490.0 522.5 L495.0 530.0 L500.0 537.5 L497.5 542.5 L501.2 550.0 L503.8 560.0 L505.0 575.0 L506.2 590.0 L505.0 586.2 L498.8 590.0 L500.0 596.2 L498.8 605.0 L492.5 606.2 L490.0 602.5 L490.0 606.2M485.0 482.5 L493.8 485.0 L497.5 491.2 L501.2 497.5 L502.5 503.8 L507.5 507.5 L515.0 510.0 L520.0 507.5 L525.0 513.8 L531.2 515.0 L535.0 516.2 L542.5 513.8 L543.8 505.0 L550.0 503.8 L555.0 500.0 L556.2 495.0 L550.0 493.8 L545.0 492.5 L542.5 486.2 L537.5 485.0 L537.5 480.0 L545.0 480.0 L552.5 485.0 L562.5 487.5 L565.0 495.0 L562.5 502.5 L570.0 497.5 L575.0 492.5 L572.5 485.0 L577.5 481.2 L582.5 487.5 L587.5 492.5 L595.0 497.5 L600.0 501.2M562.5 487.5 L560.0 480.0 L557.5 472.5 L561.2 465.0 L565.0 460.0 L570.0 455.0 L575.0 450.0 L572.5 442.5 L570.0 435.0 L572.5 427.5 L567.5 420.0M476.2 510.0 L476.2 495.0 L480.0 485.0 L485.0 482.5M600.0 506.7 L601.7 510.8 L606.7 513.3 L613.3 514.2 L620.0 512.5 L621.7 510.0 L626.7 509.2 L630.0 510.0 L636.7 512.5 L643.3 514.2 L648.3 513.3 L655.0 516.7 L661.7 520.0 L666.7 522.5 L673.3 525.0 L680.0 526.7 L686.7 530.0 L693.3 533.3 L696.7 533.3 L702.5 533.3 L705.0 540.0 L704.2 548.3 L700.0 551.7 L693.3 555.0 L686.7 555.8 L680.0 556.7 L675.0 558.3 L673.3 563.3 L674.2 570.0 L677.5 575.0 L683.3 580.0 L688.3 583.3 L689.2 590.0 L690.0 598.3 L690.0 605.0 L691.7 613.3 L686.7 620.0 L681.7 626.7 L686.7 628.3 L693.3 630.0 L695.0 636.7 L691.7 643.3 L691.7 650.0 L686.7 655.0 L680.0 660.0M673.3 525.0 L675.8 533.3 L670.0 538.3 L666.7 543.3 L663.3 550.0 L658.3 553.3 L655.0 558.3 L651.7 565.0 L646.7 568.3 L643.3 566.7 L640.0 563.3 L635.0 561.7 L630.0 560.0 L626.7 560.8 L624.2 566.7 L621.7 571.7 L618.3 576.7 L621.7 580.0 L625.0 585.0 L628.3 590.0 L635.0 591.7 L636.7 596.7 L633.3 598.3 L628.3 595.8 L625.0 598.3 L626.7 603.3 L631.7 605.0 L635.0 606.7 L635.8 611.7 L631.7 613.3 L625.0 615.8 L620.0 615.0M643.3 465.0 L640.0 466.7 L637.5 473.3 L640.0 476.7 L638.3 481.7 L640.0 486.7 L639.2 491.7 L635.0 495.0 L630.0 495.8 L626.7 499.2 L628.3 505.0 L626.7 509.2M702.5 533.3 L706.7 535.0 L711.7 531.7 L716.7 530.0 L720.0 533.3M693.3 486.7 L694.2 504.2 L696.7 506.7 L700.0 508.3 L705.0 510.0 L703.3 513.3 L696.7 515.0 L693.3 518.3 L694.2 526.7 L696.7 533.3M926.7 216.7 L931.7 225.0 L940.0 223.3 L946.7 226.7 L945.0 235.0 L936.7 236.7 L926.7 245.0 L920.0 241.7 L913.3 243.3 L913.3 246.7 L920.0 253.3 L921.7 266.7 L926.7 276.7 L940.0 270.0 L946.7 261.7 L958.3 251.7 L953.3 240.0 L946.7 235.0M958.3 251.7 L966.7 253.3 L983.3 252.7 L988.3 256.7 L996.7 258.3 L1006.7 261.7 L1008.3 270.0 L1016.7 271.7 L1020.0 278.3 L1026.7 280.0 L1031.7 273.3 L1036.7 283.3 L1043.3 291.7 L1053.3 286.7 L1063.3 283.3 L1070.0 290.0 L1080.0 293.3 L1083.3 300.0M940.0 270.0 L943.3 283.3 L945.0 291.7M945.0 291.7 L936.7 300.0 L926.7 306.7 L913.3 311.7 L903.3 316.7M876.7 210.0 L883.3 213.3 L893.3 216.7 L906.7 216.7 L926.7 216.7" fill="none" stroke="#606060" stroke-width="1" stroke-linejoin="round"/>
<path d="M300.0 176.2 L303.8 177.5 L305.0 185.0 L317.5 195.0 L327.5 201.2 L337.5 201.2 L350.0 208.8 L353.8 217.5 L361.2 225.0 L360.0 240.0 L355.5 248.8 L358.0 257.5 L372.5 260.0 L392.5 261.2 L405.0 262.5 L417.5 268.8 L430.0 275.0 L440.0 277.0 L443.8 285.0 L450.0 297.5 L457.5 306.2 L472.5 307.5 L485.0 310.0 L512.5 312.0 L530.0 308.8 L542.5 310.0 L555.0 313.8 L560.0 318.8 L575.0 321.2 L587.5 326.2 L600.0 327.5 L600.0 327.5 L605.0 328.0 L607.5 331.2 L615.0 330.0 L618.8 325.0 L637.5 318.0 L656.2 315.0 L675.0 315.0 L695.0 313.8 L700.0 310.0 L707.5 308.8 L717.5 300.0 L725.0 295.0 L731.2 292.5 L737.5 287.5 L736.2 282.5 L730.0 277.5 L727.5 272.5 L735.0 262.5 L738.8 260.0 L750.0 264.5 L762.5 267.0 L772.5 263.8 L780.0 258.8 L786.2 253.8 L797.5 253.0 L805.0 248.8 L812.5 246.2 L815.0 241.2 L825.0 233.8 L836.2 230.0 L850.0 227.5 L860.0 226.2 L870.0 228.8 L880.0 229.5 L881.2 225.0 L877.5 216.2 L875.0 212.5 L868.8 208.8 L857.5 202.5 L847.5 200.0 L840.0 203.8 L833.8 207.5 L825.0 202.5 L812.5 203.8 L807.5 205.0 L802.0 200.0 L806.2 196.2 L807.5 187.5 L815.0 175.0 L822.5 163.8 L832.5 167.5 L842.5 170.0 L852.5 162.5 L862.5 160.0 L870.0 156.2 L867.5 152.5 L871.2 150.0 L869.3 147.3 L873.3 141.7 L880.0 133.3 L890.0 120.0 L895.0 108.3 L883.3 103.3 L886.7 98.3 L895.0 93.3 L900.0 91.2 L912.5 90.0 L925.0 88.0 L937.5 87.5 L947.5 87.5 L957.5 91.2 L965.0 95.0 L975.0 94.5 L982.5 98.8 L990.0 103.8 L996.2 112.5 L1000.0 122.5 L1005.0 132.5 L1010.0 142.5 L1013.8 150.0 L1017.5 157.5 L1020.0 165.0 L1027.5 168.8 L1037.5 167.5 L1046.2 172.5 L1052.5 172.5 L1060.0 177.5 L1067.5 182.5 L1073.8 183.8 L1075.0 192.5 L1080.0 206.2 L1090.0 207.5 L1105.0 206.2 L1115.0 200.0 L1125.0 197.5 L1137.5 193.8 L1152.5 192.0 L1146.2 197.5 L1145.0 202.5 L1147.5 207.5 L1142.5 212.5 L1136.2 216.2 L1133.8 225.0 L1131.2 235.0 L1125.0 245.0 L1117.5 252.5 L1116.2 261.2 L1107.5 258.8 L1097.5 256.2 L1087.5 262.5 L1081.2 265.0 L1083.8 275.0 L1085.0 292.5 L1082.5 302.5 L1075.0 308.8 L1072.5 315.0 L1065.0 308.8 L1060.0 305.0 L1056.2 315.0 L1050.0 313.2 L1046.8 315.8 L1041.8 319.2 L1033.2 321.8 L1027.5 322.5 L1029.2 328.2 L1031.8 331.8 L1029.2 335.8 L1023.2 335.0 L1016.8 334.2 L1010.0 332.5 L1006.8 328.2 L1001.8 330.0 L998.2 333.2 L996.8 337.5 L991.8 341.8 L986.8 345.8 L983.2 346.8 L981.8 350.0 L981.7 350.0 L975.0 354.2 L970.0 358.3 L965.0 361.7 L960.0 365.0 L956.7 369.2 L950.0 368.3 L944.2 367.5 L940.0 370.8 L933.3 373.3 L926.7 376.7 L921.7 380.0 L916.7 384.2 L911.7 386.7 L906.7 388.3 L902.5 390.0 L901.7 386.7 L906.7 384.2 L910.8 383.3 L912.5 379.2 L907.5 378.3 L904.2 375.0 L907.5 371.7 L911.7 366.7 L915.8 362.5 L920.0 357.5 L922.5 354.2 L920.8 350.0 L918.3 347.5 L913.3 346.7 L908.3 346.7 L901.7 347.5 L898.3 350.0 L895.0 354.2 L890.0 359.2 L884.2 361.7 L878.3 363.3 L873.3 366.7 L870.0 370.8 L867.5 375.8 L865.0 380.0 L860.0 382.5 L855.0 385.8 L850.0 384.2 L849.2 383.3 L846.7 380.0 L845.0 383.3 L841.7 388.3 L840.0 393.3 L843.3 396.7 L845.8 399.2 L850.0 401.7 L850.0 402.5 L860.0 402.5 L865.8 406.7 L869.2 409.2 L865.8 411.7 L863.0 415.8 L864.2 419.2 L869.2 422.5 L875.0 423.0 L879.2 419.2 L883.3 415.0 L885.8 411.7 L891.7 410.0 L895.0 408.3 L898.3 410.0 L905.0 413.3 L908.3 413.3 L914.2 415.8 L918.3 414.2 L921.7 416.7 L930.0 417.5 L929.2 421.7 L926.7 426.7 L923.3 428.3 L916.7 427.5 L911.7 429.2 L906.7 431.7 L900.0 435.0 L895.0 438.3 L893.3 442.5 L888.3 443.3 L885.0 445.0 L885.8 448.3 L880.8 453.3 L876.7 456.7 L873.3 461.7 L869.2 466.7 L870.0 470.0 L875.0 474.2 L880.8 479.2 L883.3 480.0 L876.9 476.9 L881.2 477.5 L887.5 480.0 L890.0 486.2 L893.1 493.8 L896.9 501.9 L898.8 510.0 L900.0 515.0 L903.8 516.9 L907.5 518.8 L908.8 523.1 L913.8 526.9 L916.2 530.0 L917.5 533.8 L916.9 538.8 L920.0 541.9 L918.1 543.1 L916.9 545.0 L917.5 550.0 L918.1 555.0 L912.5 555.0 L906.2 555.6 L901.2 557.5 L905.0 560.6 L908.8 564.4 L912.5 567.5 L915.6 571.9 L917.5 573.8 L916.2 576.2 L917.5 580.0 L916.7 586.7 L913.3 588.3 L911.7 593.3 L910.8 600.0 L906.7 605.0 L903.3 609.2 L900.0 613.3 L896.7 616.7 L893.3 621.7 L890.0 626.7 L886.7 630.0 L883.3 634.2 L880.0 636.7 L875.0 638.3 L880.0 640.8 L878.3 645.0 L875.8 650.0 L875.0 655.0 L878.3 658.3 L875.0 662.5 L870.0 663.3 L865.0 668.3 L861.7 673.3 L856.7 678.3 L851.7 680.8 L846.7 685.0 L843.3 690.0 L838.3 695.0 L833.3 700.0 L828.3 702.5 L823.3 706.7 L818.3 711.7 L811.7 714.2 L805.0 716.7 L800.0 718.3 L795.0 718.3 L790.0 720.0 L785.0 717.5 L781.7 721.7 L778.3 725.0 L775.0 726.7 L771.7 725.8 L770.0 718.3 L768.3 721.7 L766.7 726.7 L763.3 730.0 L758.3 733.3 L753.3 736.7 L750.0 739.2 L745.0 738.3 L740.0 737.5 L733.3 740.0 L725.0 743.3 L718.3 745.0 L713.3 746.7 L708.3 750.8 L706.7 755.0 L710.0 756.7 L712.5 761.7 L713.3 765.8 L708.3 767.5 L701.7 768.3 L699.2 763.3 L697.5 756.7 L696.7 751.7 L699.2 746.7 L698.3 743.3 L693.3 742.5 L685.8 743.3 L681.7 740.0 L675.0 740.8 L668.3 741.7 L661.7 740.0 L655.0 738.3 L650.0 736.7 L646.9 733.1 L641.7 730.0 L640.6 723.8 L644.8 717.5 L643.8 713.3 L637.5 712.3 L631.2 712.3 L625.0 711.2 L621.9 707.1 L618.8 704.0 L614.6 707.1 L610.4 709.2 L608.3 713.3 L604.2 714.4 L600.0 716.5 L595.8 715.4 L594.8 721.7 L589.6 717.5 L586.5 716.5 L583.3 719.6 L580.2 717.5 L577.1 722.7 L572.9 719.6 L566.7 716.5 L563.5 721.7 L558.3 723.8 L552.1 722.7 L551.0 727.9 L553.1 734.2 L555.2 740.4 L554.2 746.7 L550.0 748.8 L545.8 748.3 L544.8 742.5 L542.7 737.3 L537.5 740.4 L531.2 742.5 L526.0 741.5 L521.9 736.2 L520.8 731.0 L512.5 730.0 L508.3 729.0 L510.4 721.7 L513.5 713.3 L512.5 710.2 L507.3 709.2 L503.1 705.0 L501.0 696.7 L499.0 691.5 L502.1 688.3 L494.8 688.3 L487.5 690.4 L481.2 693.5 L479.2 691.5 L482.3 686.2 L479.2 680.0 L481.2 671.7 L484.4 667.5 L489.6 659.2 L494.8 654.0 L499.0 648.8 L500.0 642.5 L501.0 634.2 L500.0 621.7 L499.0 615.4 L494.8 616.5 L490.6 607.1 L488.5 605.0 L484.4 601.9 L480.2 598.8 L476.0 605.0 L475.0 611.2 L470.8 614.4 L466.7 611.2 L460.4 608.1 L455.2 606.0 L450.0 605.0 L440.0 607.5 L435.0 612.5 L427.5 615.0 L420.0 617.5 L415.0 622.5 L411.2 630.0 L402.5 631.2 L392.5 632.5 L382.5 632.5 L380.0 622.5 L372.5 618.8 L370.0 612.5 L365.0 608.8 L358.8 611.2 L352.5 608.8 L345.0 606.2 L338.8 605.0 L332.5 610.0 L328.0 617.5 L330.0 625.0 L323.8 623.8 L321.2 618.8 L322.5 610.0 L317.5 607.5 L310.0 611.2 L302.5 612.5 L292.5 613.8 L287.5 610.0 L281.2 607.5 L276.2 611.2 L271.2 611.2 L268.8 605.0 L262.5 602.5 L256.2 602.5 L255.0 597.5 L250.0 596.2 L242.5 592.5 L238.8 586.2 L235.0 582.5 L228.8 585.0 L222.5 578.8 L215.0 575.0 L208.8 571.2 L202.5 567.5 L200.0 562.5 L192.5 560.0 L188.8 562.5 L186.2 568.8 L182.5 565.0 L176.2 560.0 L168.8 557.5 L162.5 553.8 L157.5 548.8 L151.2 548.8 L145.0 546.2 L141.2 540.0 L141.2 532.5 L136.2 525.0 L135.0 517.5 L141.2 513.8 L142.5 518.8 L146.2 520.0 L151.2 515.0 L150.0 507.5 L145.0 500.0 L141.2 495.0 L140.0 486.2 L145.0 480.0 L132.5 475.0 L130.0 467.5 L128.8 457.5 L117.5 457.0 L107.5 453.8 L101.2 448.8 L102.5 450.0 L93.8 447.5 L90.0 435.0 L82.5 426.2 L68.8 425.0 L64.5 422.0 L75.0 417.5 L71.2 410.0 L70.0 396.2 L52.5 393.8 L52.0 385.0 L47.5 377.5 L53.8 373.8 L55.0 362.5 L71.2 355.5 L83.8 351.2 L86.2 357.5 L101.2 356.2 L107.5 343.0 L122.5 342.5 L130.0 336.2 L150.0 328.0 L160.0 325.0 L168.0 321.2 L167.0 312.5 L168.8 306.2 L177.5 300.0 L177.5 295.0 L172.5 285.0 L170.0 268.8 L162.5 263.8 L185.0 257.5 L195.0 255.0 L205.5 252.5 L205.0 245.0 L212.5 232.5 L220.0 217.0 L235.0 221.2 L252.5 222.5 L265.0 217.5 L263.8 200.0 L266.2 192.5 L280.0 190.0 L283.8 187.5 L287.5 177.5 L300.0 176.2Z" fill="none" stroke="#606060" stroke-width="1.1" stroke-linejoin="round"/>
<path d="M909.2 664.2 L913.3 666.7 L916.7 668.3 L918.3 670.8 L915.8 672.5 L915.8 680.0 L914.2 686.7 L911.7 693.3 L909.2 701.7 L906.7 710.0 L903.3 716.7 L900.0 721.7 L899.2 728.3 L897.5 734.2 L895.0 734.2 L893.3 728.3 L892.5 725.0 L888.3 724.2 L885.8 718.3 L883.3 711.7 L882.5 705.0 L883.3 696.7 L886.7 690.0 L890.8 683.3 L895.0 676.7 L900.0 670.0 L904.2 667.5 L909.2 664.2Z" fill="#FFF8C1" stroke="#606060" stroke-width="0.9" stroke-linejoin="round"/>
<path d="M714.2 770.0 L718.3 771.7 L720.8 775.0 L721.7 780.0 L718.3 783.3 L715.0 790.0 L712.5 796.7 L709.2 801.7 L703.3 806.7 L698.3 810.0 L694.2 810.8 L688.3 808.3 L681.7 805.8 L677.5 802.5 L678.3 795.0 L677.5 788.3 L680.0 785.0 L685.8 780.8 L689.2 775.8 L695.0 773.3 L703.3 771.7 L710.0 770.8 L714.2 770.0Z" fill="#FFFFE5" stroke="#606060" stroke-width="0.9" stroke-linejoin="round"/>
<path d="M772.0 1025.5 L776.5 1021.0 L782.5 1018.6 L785.5 1020.4 L781.0 1025.5 L776.5 1027.6 L772.0 1025.5Z" fill="#FFF8C1" stroke="#606060" stroke-width="0.9" stroke-linejoin="round"/>
<circle cx="729.4" cy="832.6" r="0.80" fill="#606060"/>
<circle cx="743.5" cy="835.0" r="0.80" fill="#606060"/>
<circle cx="731.5" cy="844.0" r="0.80" fill="#606060"/>
<circle cx="734.5" cy="845.5" r="0.80" fill="#606060"/>
<circle cx="730.0" cy="848.5" r="0.80" fill="#606060"/>
<circle cx="733.0" cy="850.0" r="0.80" fill="#606060"/>
<circle cx="737.5" cy="848.5" r="0.80" fill="#606060"/>
<circle cx="746.5" cy="847.0" r="0.80" fill="#606060"/>
<circle cx="749.5" cy="847.6" r="0.80" fill="#606060"/>
<circle cx="745.0" cy="850.0" r="0.80" fill="#606060"/>
<circle cx="734.5" cy="853.6" r="0.80" fill="#606060"/>
<circle cx="746.5" cy="854.5" r="0.80" fill="#606060"/>
<circle cx="742.0" cy="860.5" r="0.80" fill="#606060"/>
<circle cx="776.5" cy="854.5" r="0.65" fill="#606060"/>
<circle cx="779.5" cy="853.6" r="0.65" fill="#606060"/>
<circle cx="784.0" cy="852.4" r="0.65" fill="#606060"/>
<circle cx="787.6" cy="850.6" r="0.65" fill="#606060"/>
<circle cx="789.4" cy="854.5" r="0.65" fill="#606060"/>
<circle cx="772.0" cy="865.0" r="0.65" fill="#606060"/>
<circle cx="784.0" cy="862.6" r="0.65" fill="#606060"/>
<circle cx="756.4" cy="783.1" r="0.80" fill="#606060"/>
<circle cx="771.4" cy="789.4" r="0.80" fill="#606060"/>
<circle cx="823.0" cy="847.9" r="0.80" fill="#606060"/>
<circle cx="841.6" cy="871.6" r="0.80" fill="#606060"/>
<circle cx="799.0" cy="896.5" r="0.80" fill="#606060"/>
<circle cx="786.1" cy="947.5" r="0.75" fill="#606060"/>
<circle cx="823.6" cy="947.5" r="0.75" fill="#606060"/>
<circle cx="776.5" cy="958.0" r="0.75" fill="#606060"/>
<circle cx="784.0" cy="959.5" r="0.75" fill="#606060"/>
<circle cx="787.0" cy="956.5" r="0.75" fill="#606060"/>
<circle cx="791.5" cy="955.0" r="0.75" fill="#606060"/>
<circle cx="783.4" cy="961.6" r="0.75" fill="#606060"/>
<circle cx="832.0" cy="956.5" r="0.75" fill="#606060"/>
<circle cx="838.0" cy="957.4" r="0.75" fill="#606060"/>
<circle cx="842.5" cy="961.0" r="0.75" fill="#606060"/>
<circle cx="833.5" cy="962.5" r="0.75" fill="#606060"/>
<circle cx="806.5" cy="967.0" r="0.75" fill="#606060"/>
<circle cx="819.4" cy="968.5" r="0.75" fill="#606060"/>
<circle cx="822.4" cy="967.0" r="0.75" fill="#606060"/>
<circle cx="824.5" cy="966.4" r="0.75" fill="#606060"/>
<circle cx="766.0" cy="972.4" r="0.75" fill="#606060"/>
<circle cx="771.1" cy="976.0" r="0.75" fill="#606060"/>
<circle cx="779.5" cy="971.5" r="0.75" fill="#606060"/>
<circle cx="787.0" cy="970.0" r="0.75" fill="#606060"/>
<circle cx="797.5" cy="973.6" r="0.75" fill="#606060"/>
<circle cx="803.5" cy="979.0" r="0.75" fill="#606060"/>
<circle cx="811.0" cy="975.4" r="0.75" fill="#606060"/>
<circle cx="808.0" cy="982.6" r="0.75" fill="#606060"/>
<circle cx="812.5" cy="985.0" r="0.75" fill="#606060"/>
<circle cx="819.4" cy="982.0" r="0.75" fill="#606060"/>
<circle cx="787.0" cy="979.0" r="0.75" fill="#606060"/>
<circle cx="786.4" cy="983.5" r="0.75" fill="#606060"/>
<circle cx="800.5" cy="989.5" r="0.75" fill="#606060"/>
<circle cx="778.0" cy="989.5" r="0.75" fill="#606060"/>
<circle cx="809.5" cy="991.6" r="0.75" fill="#606060"/>
<circle cx="820.0" cy="995.5" r="0.75" fill="#606060"/>
<circle cx="823.0" cy="997.0" r="0.75" fill="#606060"/>
<circle cx="815.5" cy="998.5" r="0.75" fill="#606060"/>
<circle cx="748.0" cy="986.5" r="0.75" fill="#606060"/>
<circle cx="767.5" cy="997.0" r="0.75" fill="#606060"/>
<circle cx="772.0" cy="1000.0" r="0.75" fill="#606060"/>
<circle cx="775.0" cy="1001.5" r="0.75" fill="#606060"/>
<circle cx="778.0" cy="1002.4" r="0.75" fill="#606060"/>
<circle cx="785.5" cy="1000.0" r="0.75" fill="#606060"/>
<circle cx="742.0" cy="1000.0" r="0.75" fill="#606060"/>
<circle cx="745.0" cy="1000.6" r="0.75" fill="#606060"/>
<circle cx="749.5" cy="1000.0" r="0.75" fill="#606060"/>
<circle cx="753.4" cy="999.4" r="0.75" fill="#606060"/>
<circle cx="728.5" cy="1006.6" r="0.75" fill="#606060"/>
<circle cx="733.0" cy="1005.4" r="0.75" fill="#606060"/>
<circle cx="796.0" cy="1009.0" r="0.75" fill="#606060"/>
<circle cx="799.0" cy="1008.4" r="0.75" fill="#606060"/>
<circle cx="802.0" cy="1007.5" r="0.75" fill="#606060"/>
<circle cx="762.4" cy="1013.5" r="0.75" fill="#606060"/>
<circle cx="761.5" cy="1016.5" r="0.75" fill="#606060"/>
<circle cx="755.5" cy="1009.0" r="0.75" fill="#606060"/>
<circle cx="755.5" cy="1021.0" r="0.75" fill="#606060"/>
<circle cx="712.0" cy="1015.6" r="0.75" fill="#606060"/>
<circle cx="702.4" cy="1020.4" r="0.75" fill="#606060"/>
<circle cx="730.0" cy="1025.5" r="0.75" fill="#606060"/>
<circle cx="731.5" cy="1023.4" r="0.75" fill="#606060"/>
<circle cx="734.5" cy="1021.0" r="0.75" fill="#606060"/>
<circle cx="737.5" cy="1017.4" r="0.75" fill="#606060"/>
<circle cx="773.5" cy="1018.6" r="0.75" fill="#606060"/>
<circle cx="787.0" cy="1015.0" r="0.75" fill="#606060"/>
<circle cx="771.4" cy="1031.5" r="0.75" fill="#606060"/>
<circle cx="788.5" cy="1033.0" r="0.75" fill="#606060"/>
<circle cx="791.5" cy="1028.5" r="0.75" fill="#606060"/>
<circle cx="766.6" cy="1039.6" r="0.75" fill="#606060"/>
<circle cx="760.6" cy="1052.5" r="0.75" fill="#606060"/>
<circle cx="746.5" cy="1066.0" r="0.75" fill="#606060"/>
<circle cx="749.5" cy="1077.4" r="0.75" fill="#606060"/>
<circle cx="754.9" cy="1078.6" r="0.75" fill="#606060"/>
<circle cx="739.0" cy="1102.0" r="0.75" fill="#606060"/>
<circle cx="742.6" cy="1101.4" r="0.75" fill="#606060"/>
<circle cx="919.2" cy="659.2" r="0.80" fill="#606060"/>
<circle cx="943.7" cy="655.8" r="0.80" fill="#606060"/>
<circle cx="948.3" cy="651.7" r="0.80" fill="#606060"/>
<circle cx="964.2" cy="651.7" r="0.80" fill="#606060"/>
<circle cx="871.7" cy="707.5" r="0.80" fill="#606060"/>
<circle cx="873.3" cy="704.2" r="0.80" fill="#606060"/>
<circle cx="909.2" cy="718.8" r="0.80" fill="#606060"/>
<circle cx="909.7" cy="731.3" r="0.80" fill="#606060"/>
<circle cx="810.0" cy="752.5" r="0.80" fill="#606060"/>
<circle cx="825.0" cy="759.2" r="0.80" fill="#606060"/>
<circle cx="915.0" cy="600.0" r="0.80" fill="#606060"/>
<circle cx="902.5" cy="617.5" r="0.80" fill="#606060"/>
<circle cx="874.2" cy="699.2" r="1.20" fill="#606060"/>
<circle cx="874.7" cy="700.0" r="1.20" fill="#606060"/>
<circle cx="925.0" cy="553.8" r="0.80" fill="#606060"/>
<circle cx="927.5" cy="555.0" r="0.80" fill="#606060"/>
<circle cx="931.9" cy="554.4" r="0.80" fill="#606060"/>
<circle cx="923.8" cy="560.0" r="0.80" fill="#606060"/>
<circle cx="921.9" cy="560.0" r="0.80" fill="#606060"/>
<circle cx="931.9" cy="566.2" r="0.80" fill="#606060"/>
<circle cx="920.0" cy="556.2" r="0.80" fill="#606060"/>
<circle cx="918.1" cy="541.9" r="0.80" fill="#606060"/>
<circle cx="915.0" cy="541.2" r="0.80" fill="#606060"/>
<circle cx="913.1" cy="540.0" r="0.80" fill="#606060"/>
<circle cx="685.8" cy="751.7" r="0.80" fill="#606060"/>
<circle cx="810.0" cy="751.7" r="0.80" fill="#606060"/>
<circle cx="825.0" cy="759.2" r="0.80" fill="#606060"/>
<circle cx="756.3" cy="783.3" r="0.80" fill="#606060"/>
<circle cx="771.7" cy="789.2" r="0.80" fill="#606060"/>
<circle cx="723.3" cy="774.2" r="0.80" fill="#606060"/>
<path d="M882.4 791.5 L877.6 802.0 L872.5 814.6" fill="none" stroke="#606060" stroke-width="1.0" stroke-linecap="butt"/>
<path d="M865.0 853.0 L865.0 875.5" fill="none" stroke="#606060" stroke-width="1.6" stroke-linecap="butt"/>
<path d="M863.5 936.4 L860.5 949.0 L855.4 959.5" fill="none" stroke="#606060" stroke-width="1.0" stroke-linecap="butt"/>
<path d="M814.9 1018.0 L801.4 1035.4" fill="none" stroke="#606060" stroke-width="1.0" stroke-linecap="butt"/>
<path d="M753.4 1105.6 L734.5 1111.6" fill="none" stroke="#606060" stroke-width="1.0" stroke-linecap="butt"/>
<path d="M670.0 1037.5 L670.0 1048.0 L671.5 1059.4" fill="none" stroke="#606060" stroke-width="1.0" stroke-linecap="butt"/>
<path d="M708.4 931.0 L707.5 943.0 L703.6 952.0" fill="none" stroke="#606060" stroke-width="1.2" stroke-linecap="butt"/>
<path d="M689.5 849.4 L695.5 860.5 L699.4 872.5" fill="none" stroke="#606060" stroke-width="1.0" stroke-linecap="butt"/>
<path d="M694.0 1030.6 L700.0 1027.0" fill="none" stroke="#606060" stroke-width="1.2" stroke-linecap="butt"/>
<path d="M748.0 1060.0 L749.5 1072.0" fill="none" stroke="#606060" stroke-width="1.0" stroke-linecap="butt"/>
<path d="M932.5 679.2 L929.7 690.8 L927.0 702.5" fill="none" stroke="#606060" stroke-width="1.3" stroke-linecap="butt"/>
<path d="M916.3 738.3 L909.2 747.5 L902.0 756.7" fill="none" stroke="#606060" stroke-width="1.0" stroke-linecap="butt"/>
<path d="M875.3 636.7 L878.3 635.3 L881.7 636.3 L883.3 638.3 L880.0 639.7 L876.7 638.7 L875.3 636.7" fill="none" stroke="#606060" stroke-width="1.0" stroke-linecap="butt"/>
<path d="M866.7 660.8 L870.0 659.2 L874.2 660.0 L877.5 659.2 L878.3 662.5 L874.2 663.3 L870.8 664.7 L867.5 663.3" fill="none" stroke="#606060" stroke-width="1.0" stroke-linecap="butt"/>
<path d="M862.0 668.3 L864.2 666.7 L866.7 668.0 L865.3 670.8 L863.0 670.3" fill="none" stroke="#606060" stroke-width="1.0" stroke-linecap="butt"/>
<path d="M848.3 682.0 L850.8 680.3 L854.2 681.3 L853.0 683.3 L849.7 683.7" fill="none" stroke="#606060" stroke-width="0.9" stroke-linecap="butt"/>
<path d="M900.0 608.7 L902.0 607.5 L903.7 610.0 L902.0 613.0 L900.3 611.7" fill="none" stroke="#606060" stroke-width="0.9" stroke-linecap="butt"/>
<path d="M916.7 570.0 L920.0 573.3 L924.2 574.2 L925.8 570.8" fill="none" stroke="#606060" stroke-width="1.0" stroke-linecap="butt"/>
<path d="M827.5 702.0 L829.7 701.3 L830.3 703.0" fill="none" stroke="#606060" stroke-width="0.9" stroke-linecap="butt"/>
<path d="M915.6 565.0 L918.8 563.1 L921.9 563.8 L925.0 565.6 L926.0 568.8 L924.4 572.5 L921.2 575.6 L918.1 573.8 L916.9 570.0 L918.8 567.5 L921.9 567.5 L923.1 570.0 L921.2 572.5 L919.4 570.6" fill="none" stroke="#606060" stroke-width="1.6" stroke-linecap="butt"/>
<path d="M917.5 566.2 L920.0 565.6 L923.8 567.5 L925.0 570.6 L922.5 573.8 L920.0 575.0" fill="none" stroke="#606060" stroke-width="1.4" stroke-linecap="butt"/>
<path d="M906.9 535.6 L910.0 537.5 L913.1 540.0 L916.2 541.9 L919.4 542.5" fill="none" stroke="#606060" stroke-width="1.0" stroke-linecap="butt"/>
<path d="M908.8 536.2 L912.5 539.4 L915.0 542.5 L917.5 544.4" fill="none" stroke="#606060" stroke-width="0.9" stroke-linecap="butt"/>
<path d="M770.8 725.8 L773.3 723.3 L775.8 726.7 L774.2 729.2 L771.7 728.3" fill="none" stroke="#606060" stroke-width="1.0" stroke-linecap="butt"/>
<path d="M776.7 721.7 L779.2 720.0 L781.7 722.5 L780.0 725.8 L777.5 725.0" fill="none" stroke="#606060" stroke-width="1.0" stroke-linecap="butt"/>
<path d="M782.5 719.2 L785.0 718.3 L785.8 721.7 L783.3 723.0" fill="none" stroke="#606060" stroke-width="0.9" stroke-linecap="butt"/>
<path d="M769.2 731.7 L770.8 733.3" fill="none" stroke="#606060" stroke-width="1.0" stroke-linecap="butt"/>
<path d="M776.7 732.0 L779.2 731.3" fill="none" stroke="#606060" stroke-width="1.0" stroke-linecap="butt"/>
<path d="M747.5 738.0 L750.0 736.7 L752.5 738.3 L750.8 740.3 L748.3 740.0" fill="none" stroke="#606060" stroke-width="1.0" stroke-linecap="butt"/>
<path d="M706.7 751.7 L709.2 750.0 L710.8 752.5 L709.2 755.0 L712.5 755.8" fill="none" stroke="#606060" stroke-width="0.9" stroke-linecap="butt"/>
</g>

<g id="legend">
<rect x="58" y="805.0" width="33" height="33.7" fill="#FFFFE5"/>
<text x="100.5" y="833.8" class="lg" textLength="218" lengthAdjust="spacingAndGlyphs">0.065% - 0.303%</text>
<rect x="58" y="838.6" width="33" height="33.7" fill="#FFF8C1"/>
<text x="100.5" y="867.3" class="lg" textLength="218" lengthAdjust="spacingAndGlyphs">0.303% - 0.517%</text>
<rect x="58" y="872.2" width="33" height="33.7" fill="#FEE79B"/>
<text x="100.5" y="900.7" class="lg" textLength="218" lengthAdjust="spacingAndGlyphs">0.517% - 0.676%</text>
<rect x="58" y="905.8" width="33" height="33.7" fill="#FECE65"/>
<text x="100.5" y="934.2" class="lg" textLength="218" lengthAdjust="spacingAndGlyphs">0.676% - 0.813%</text>
<rect x="58" y="939.4" width="33" height="33.7" fill="#FEAC3A"/>
<text x="100.5" y="967.7" class="lg" textLength="218" lengthAdjust="spacingAndGlyphs">0.813% - 0.966%</text>
<rect x="58" y="973.0" width="33" height="33.7" fill="#F68720"/>
<text x="100.5" y="1001.1" class="lg" textLength="218" lengthAdjust="spacingAndGlyphs">0.966% - 1.216%</text>
<rect x="58" y="1006.6" width="33" height="33.7" fill="#E1640E"/>
<text x="100.5" y="1034.6" class="lg" textLength="218" lengthAdjust="spacingAndGlyphs">1.216% - 1.515%</text>
<rect x="58" y="1040.2" width="33" height="33.7" fill="#C14702"/>
<text x="100.5" y="1068.1" class="lg" textLength="218" lengthAdjust="spacingAndGlyphs">1.515% - 2.000%</text>
<rect x="58" y="1073.8" width="33" height="33.7" fill="#933204"/>
<text x="100.5" y="1101.6" class="lg" textLength="218" lengthAdjust="spacingAndGlyphs">2.000% - 2.265%</text>
<rect x="58" y="1107.4" width="33" height="33.7" fill="#662506"/>
<text x="100.5" y="1135.0" class="lg" textLength="218" lengthAdjust="spacingAndGlyphs">2.265% - 5.556%</text>
</g>
<text y="107.5" class="ti"><tspan x="48.5">父系：</tspan><tspan x="427">含下游</tspan></text>
<text class="ti" transform="translate(0,107.6) scale(1,1.05)"><tspan x="218" y="0">O-F402 (</tspan><tspan x="583.5" y="0">)</tspan></text>
<text x="54" y="787" class="lt">相对占比</text>
<text y="1137" class="au"><tspan x="945">作者</tspan><tspan x="1001.5">:O1a</tspan><tspan x="1062">溯源群</tspan></text>
<path d="M24.5 24.5H1175V1175H24.5Z" fill="none" stroke="#000" stroke-width="1"/>
<path d="M1175 24V1176M24 1175H1176" fill="none" stroke="#000" stroke-width="2"/>
</svg>
</body></html>
